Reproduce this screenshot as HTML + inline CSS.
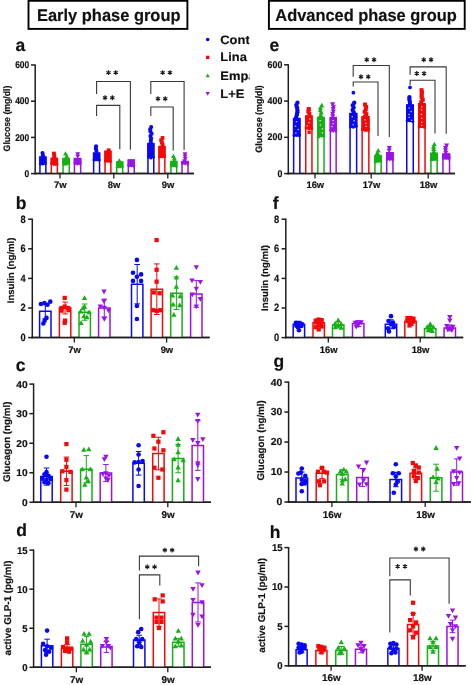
<!DOCTYPE html>
<html><head><meta charset="utf-8"><style>
html,body{margin:0;padding:0;background:#fff;width:473px;height:685px;overflow:hidden}
svg text{font-family:"Liberation Sans",sans-serif;font-weight:bold;fill:#111;stroke:#111;stroke-width:0.18px;text-rendering:geometricPrecision}
</style></head><body>
<svg width="473" height="685" viewBox="0 0 473 685" style="display:block;filter:blur(0.5px)">
<line x1="35.20" y1="64.40" x2="35.20" y2="174.35" stroke="#1e1e1e" stroke-width="1.5"/>
<line x1="34.45" y1="173.60" x2="194.00" y2="173.60" stroke="#1e1e1e" stroke-width="1.5"/>
<line x1="31.00" y1="173.60" x2="35.20" y2="173.60" stroke="#1e1e1e" stroke-width="1.5"/>
<text x="29.20" y="176.70" font-size="9.8" text-anchor="end" textLength="4.69" lengthAdjust="spacingAndGlyphs">0</text>
<line x1="31.00" y1="137.40" x2="35.20" y2="137.40" stroke="#1e1e1e" stroke-width="1.5"/>
<text x="29.20" y="140.50" font-size="9.8" text-anchor="end" textLength="14.07" lengthAdjust="spacingAndGlyphs">200</text>
<line x1="31.00" y1="101.20" x2="35.20" y2="101.20" stroke="#1e1e1e" stroke-width="1.5"/>
<text x="29.20" y="104.30" font-size="9.8" text-anchor="end" textLength="14.07" lengthAdjust="spacingAndGlyphs">400</text>
<line x1="31.00" y1="65.00" x2="35.20" y2="65.00" stroke="#1e1e1e" stroke-width="1.5"/>
<text x="29.20" y="68.10" font-size="9.8" text-anchor="end" textLength="14.07" lengthAdjust="spacingAndGlyphs">600</text>
<line x1="60.00" y1="173.60" x2="60.00" y2="178.60" stroke="#1e1e1e" stroke-width="1.3"/>
<text x="60.30" y="187.60" font-size="9.4" text-anchor="middle" textLength="12.52" lengthAdjust="spacingAndGlyphs">7w</text>
<line x1="113.80" y1="173.60" x2="113.80" y2="178.60" stroke="#1e1e1e" stroke-width="1.3"/>
<text x="114.10" y="187.60" font-size="9.4" text-anchor="middle" textLength="12.52" lengthAdjust="spacingAndGlyphs">8w</text>
<line x1="167.80" y1="173.60" x2="167.80" y2="178.60" stroke="#1e1e1e" stroke-width="1.3"/>
<text x="168.10" y="187.60" font-size="9.4" text-anchor="middle" textLength="12.52" lengthAdjust="spacingAndGlyphs">9w</text>
<path d="M96.60 94.10V81.50H130.40V149.80" fill="none" stroke="#3a3a3a" stroke-width="1.1"/>
<path d="M108.45 70.15L108.45 75.05M106.33 71.38L110.57 73.82M110.57 71.38L106.33 73.82" stroke="#1a1a1a" stroke-width="1.15" fill="none"/>
<path d="M115.75 70.15L115.75 75.05M113.63 71.38L117.87 73.82M117.87 71.38L113.63 73.82" stroke="#1a1a1a" stroke-width="1.15" fill="none"/>
<path d="M96.60 116.00V105.40H119.80V149.30" fill="none" stroke="#3a3a3a" stroke-width="1.1"/>
<path d="M105.05 95.25L105.05 100.15M102.93 96.48L107.17 98.92M107.17 96.48L102.93 98.92" stroke="#1a1a1a" stroke-width="1.15" fill="none"/>
<path d="M112.35 95.25L112.35 100.15M110.23 96.48L114.47 98.92M114.47 96.48L110.23 98.92" stroke="#1a1a1a" stroke-width="1.15" fill="none"/>
<path d="M150.80 94.10V81.50H184.10V149.90" fill="none" stroke="#3a3a3a" stroke-width="1.1"/>
<path d="M162.65 70.15L162.65 75.05M160.53 71.38L164.77 73.82M164.77 71.38L160.53 73.82" stroke="#1a1a1a" stroke-width="1.15" fill="none"/>
<path d="M169.95 70.15L169.95 75.05M167.83 71.38L172.07 73.82M172.07 71.38L167.83 73.82" stroke="#1a1a1a" stroke-width="1.15" fill="none"/>
<path d="M150.80 116.00V107.00H173.20V150.50" fill="none" stroke="#3a3a3a" stroke-width="1.1"/>
<path d="M157.95 96.25L157.95 101.15M155.83 97.48L160.07 99.92M160.07 97.48L155.83 99.92" stroke="#1a1a1a" stroke-width="1.15" fill="none"/>
<path d="M165.25 96.25L165.25 101.15M163.13 97.48L167.37 99.92M167.37 97.48L163.13 99.92" stroke="#1a1a1a" stroke-width="1.15" fill="none"/>
<text x="0" y="0" font-size="9.4" text-anchor="middle" textLength="65.8" lengthAdjust="spacingAndGlyphs" transform="translate(9.60,118.50) rotate(-90)">Glucose (mg/dl)</text>
<text x="15.60" y="50.60" font-size="17.5" text-anchor="start" >a</text>
<path d="M39.95 173.60V157.00H45.85V173.60" fill="#fff" stroke="#0808f4" stroke-width="1.5"/>
<rect x="39.20" y="156.70" width="7.40" height="7.40" fill="#0808f4"/>
<circle cx="40.43" cy="163.91" r="1.57" fill="#0808f4"/>
<circle cx="42.90" cy="163.81" r="1.57" fill="#0808f4"/>
<circle cx="45.37" cy="163.40" r="1.57" fill="#0808f4"/>
<circle cx="42.51" cy="152.97" r="2.06" fill="#0808f4"/>
<circle cx="42.92" cy="155.24" r="2.06" fill="#0808f4"/>
<path d="M51.35 173.60V158.30H57.35V173.60" fill="#fff" stroke="#f40808" stroke-width="1.5"/>
<rect x="50.60" y="158.00" width="7.50" height="6.50" fill="#f40808"/>
<rect x="50.40" y="162.01" width="2.90" height="2.90" fill="#f40808"/>
<rect x="52.90" y="162.87" width="2.90" height="2.90" fill="#f40808"/>
<rect x="55.40" y="162.77" width="2.90" height="2.90" fill="#f40808"/>
<rect x="52.05" y="151.67" width="3.80" height="3.80" fill="#f40808"/>
<rect x="52.44" y="153.94" width="3.80" height="3.80" fill="#f40808"/>
<rect x="52.37" y="156.21" width="3.80" height="3.80" fill="#f40808"/>
<path d="M63.05 173.60V158.60H69.25V173.60" fill="#fff" stroke="#14b014" stroke-width="1.5"/>
<rect x="62.30" y="158.30" width="7.70" height="5.80" fill="#14b014"/>
<path d="M63.58 162.22L65.41 165.51L61.76 165.51Z" fill="#14b014"/>
<path d="M66.15 162.21L67.98 165.50L64.32 165.50Z" fill="#14b014"/>
<path d="M68.72 161.14L70.54 164.43L66.89 164.43Z" fill="#14b014"/>
<path d="M65.45 151.17L67.84 155.48L63.05 155.48Z" fill="#14b014"/>
<path d="M66.72 153.44L69.11 157.75L64.32 157.75Z" fill="#14b014"/>
<path d="M66.55 155.71L68.95 160.02L64.15 160.02Z" fill="#14b014"/>
<path d="M74.45 173.60V158.60H80.65V173.60" fill="#fff" stroke="#9a12ea" stroke-width="1.5"/>
<rect x="73.70" y="158.30" width="7.70" height="6.40" fill="#9a12ea"/>
<path d="M74.98 165.61L76.81 162.32L73.16 162.32Z" fill="#9a12ea"/>
<path d="M77.55 165.98L79.38 162.69L75.72 162.69Z" fill="#9a12ea"/>
<path d="M80.12 165.77L81.94 162.48L78.29 162.48Z" fill="#9a12ea"/>
<path d="M77.73 156.46L80.12 152.15L75.33 152.15Z" fill="#9a12ea"/>
<path d="M77.76 158.73L80.16 154.42L75.37 154.42Z" fill="#9a12ea"/>
<path d="M93.65 173.60V153.10H99.55V173.60" fill="#fff" stroke="#0808f4" stroke-width="1.5"/>
<rect x="92.90" y="152.80" width="7.40" height="8.00" fill="#0808f4"/>
<circle cx="94.13" cy="159.88" r="1.57" fill="#0808f4"/>
<circle cx="96.60" cy="159.72" r="1.57" fill="#0808f4"/>
<circle cx="99.07" cy="160.08" r="1.57" fill="#0808f4"/>
<circle cx="96.04" cy="146.37" r="2.06" fill="#0808f4"/>
<circle cx="95.89" cy="148.64" r="2.06" fill="#0808f4"/>
<circle cx="96.44" cy="150.91" r="2.06" fill="#0808f4"/>
<path d="M105.05 173.60V151.20H110.85V173.60" fill="#fff" stroke="#f40808" stroke-width="1.5"/>
<rect x="104.30" y="150.90" width="7.30" height="10.50" fill="#f40808"/>
<rect x="104.07" y="159.50" width="2.90" height="2.90" fill="#f40808"/>
<rect x="106.50" y="159.64" width="2.90" height="2.90" fill="#f40808"/>
<rect x="108.93" y="159.71" width="2.90" height="2.90" fill="#f40808"/>
<rect x="106.76" y="148.37" width="3.80" height="3.80" fill="#f40808"/>
<path d="M116.75 173.60V162.00H122.65V173.60" fill="#fff" stroke="#14b014" stroke-width="1.5"/>
<rect x="116.00" y="161.70" width="7.40" height="5.20" fill="#14b014"/>
<path d="M117.23 164.83L119.06 168.11L115.41 168.11Z" fill="#14b014"/>
<path d="M119.70 164.86L121.53 168.15L117.87 168.15Z" fill="#14b014"/>
<path d="M122.17 164.46L123.99 167.74L120.34 167.74Z" fill="#14b014"/>
<path d="M119.31 158.27L121.71 162.58L116.92 162.58Z" fill="#14b014"/>
<path d="M128.35 173.60V159.90H134.25V173.60" fill="#fff" stroke="#9a12ea" stroke-width="1.5"/>
<rect x="127.60" y="159.60" width="7.40" height="7.30" fill="#9a12ea"/>
<path d="M128.83 167.92L130.66 164.63L127.01 164.63Z" fill="#9a12ea"/>
<path d="M131.30 167.71L133.13 164.42L129.47 164.42Z" fill="#9a12ea"/>
<path d="M133.77 168.31L135.59 165.02L131.94 165.02Z" fill="#9a12ea"/>
<path d="M147.95 173.60V143.50H153.75V173.60" fill="#fff" stroke="#0808f4" stroke-width="1.5"/>
<rect x="147.20" y="143.20" width="7.30" height="14.80" fill="#0808f4"/>
<circle cx="148.42" cy="157.07" r="1.57" fill="#0808f4"/>
<circle cx="150.85" cy="157.95" r="1.57" fill="#0808f4"/>
<circle cx="153.28" cy="156.95" r="1.57" fill="#0808f4"/>
<circle cx="151.18" cy="126.97" r="2.06" fill="#0808f4"/>
<circle cx="150.18" cy="129.24" r="2.06" fill="#0808f4"/>
<circle cx="150.44" cy="131.51" r="2.06" fill="#0808f4"/>
<circle cx="151.65" cy="133.78" r="2.06" fill="#0808f4"/>
<circle cx="150.38" cy="136.05" r="2.06" fill="#0808f4"/>
<circle cx="151.08" cy="138.32" r="2.06" fill="#0808f4"/>
<circle cx="150.78" cy="140.59" r="2.06" fill="#0808f4"/>
<circle cx="150.77" cy="142.87" r="2.06" fill="#0808f4"/>
<path d="M159.05 173.60V146.40H164.85V173.60" fill="#fff" stroke="#f40808" stroke-width="1.5"/>
<rect x="158.30" y="146.10" width="7.30" height="11.30" fill="#f40808"/>
<rect x="158.07" y="155.31" width="2.90" height="2.90" fill="#f40808"/>
<rect x="160.50" y="155.20" width="2.90" height="2.90" fill="#f40808"/>
<rect x="162.93" y="154.92" width="2.90" height="2.90" fill="#f40808"/>
<rect x="160.64" y="136.07" width="3.80" height="3.80" fill="#f40808"/>
<rect x="159.26" y="138.34" width="3.80" height="3.80" fill="#f40808"/>
<rect x="160.05" y="140.61" width="3.80" height="3.80" fill="#f40808"/>
<rect x="160.69" y="142.88" width="3.80" height="3.80" fill="#f40808"/>
<path d="M170.95 173.60V161.50H176.65V173.60" fill="#fff" stroke="#14b014" stroke-width="1.5"/>
<rect x="170.20" y="161.20" width="7.20" height="5.00" fill="#14b014"/>
<path d="M171.40 163.86L173.23 167.15L169.57 167.15Z" fill="#14b014"/>
<path d="M173.80 163.69L175.63 166.98L171.97 166.98Z" fill="#14b014"/>
<path d="M176.20 163.87L178.03 167.16L174.37 167.16Z" fill="#14b014"/>
<path d="M173.33 153.67L175.73 157.98L170.94 157.98Z" fill="#14b014"/>
<path d="M174.30 155.94L176.69 160.25L171.90 160.25Z" fill="#14b014"/>
<path d="M174.31 158.21L176.71 162.52L171.92 162.52Z" fill="#14b014"/>
<path d="M182.05 173.60V161.50H188.05V173.60" fill="#fff" stroke="#9a12ea" stroke-width="1.5"/>
<rect x="181.30" y="161.20" width="7.50" height="3.20" fill="#9a12ea"/>
<path d="M182.55 165.57L184.38 162.28L180.72 162.28Z" fill="#9a12ea"/>
<path d="M185.05 165.70L186.88 162.41L183.22 162.41Z" fill="#9a12ea"/>
<path d="M187.55 166.14L189.38 162.85L185.72 162.85Z" fill="#9a12ea"/>
<path d="M184.99 156.66L187.39 152.35L182.60 152.35Z" fill="#9a12ea"/>
<path d="M185.06 158.93L187.46 154.62L182.67 154.62Z" fill="#9a12ea"/>
<path d="M185.19 161.20L187.59 156.89L182.80 156.89Z" fill="#9a12ea"/>
<path d="M184.53 163.47L186.93 159.16L182.13 159.16Z" fill="#9a12ea"/>
<line x1="34.45" y1="173.60" x2="194.00" y2="173.60" stroke="#1e1e1e" stroke-width="1.5"/>
<line x1="288.30" y1="64.20" x2="288.30" y2="174.35" stroke="#1e1e1e" stroke-width="1.5"/>
<line x1="287.55" y1="173.60" x2="455.00" y2="173.60" stroke="#1e1e1e" stroke-width="1.5"/>
<line x1="284.10" y1="173.60" x2="288.30" y2="173.60" stroke="#1e1e1e" stroke-width="1.5"/>
<text x="282.30" y="176.70" font-size="9.8" text-anchor="end" textLength="4.91" lengthAdjust="spacingAndGlyphs">0</text>
<line x1="284.10" y1="137.33" x2="288.30" y2="137.33" stroke="#1e1e1e" stroke-width="1.5"/>
<text x="282.30" y="140.43" font-size="9.8" text-anchor="end" textLength="14.72" lengthAdjust="spacingAndGlyphs">200</text>
<line x1="284.10" y1="101.07" x2="288.30" y2="101.07" stroke="#1e1e1e" stroke-width="1.5"/>
<text x="282.30" y="104.17" font-size="9.8" text-anchor="end" textLength="14.72" lengthAdjust="spacingAndGlyphs">400</text>
<line x1="284.10" y1="64.80" x2="288.30" y2="64.80" stroke="#1e1e1e" stroke-width="1.5"/>
<text x="282.30" y="67.90" font-size="9.8" text-anchor="end" textLength="14.72" lengthAdjust="spacingAndGlyphs">600</text>
<line x1="315.00" y1="173.60" x2="315.00" y2="178.60" stroke="#1e1e1e" stroke-width="1.3"/>
<text x="315.30" y="187.60" font-size="9.4" text-anchor="middle" textLength="17.73" lengthAdjust="spacingAndGlyphs">16w</text>
<line x1="371.20" y1="173.60" x2="371.20" y2="178.60" stroke="#1e1e1e" stroke-width="1.3"/>
<text x="371.50" y="187.60" font-size="9.4" text-anchor="middle" textLength="17.73" lengthAdjust="spacingAndGlyphs">17w</text>
<line x1="428.20" y1="173.60" x2="428.20" y2="178.60" stroke="#1e1e1e" stroke-width="1.3"/>
<text x="428.50" y="187.60" font-size="9.4" text-anchor="middle" textLength="17.73" lengthAdjust="spacingAndGlyphs">18w</text>
<path d="M353.20 76.70V65.50H389.30V136.90" fill="none" stroke="#3a3a3a" stroke-width="1.1"/>
<path d="M366.75 57.35L366.75 62.25M364.63 58.57L368.87 61.02M368.87 58.57L364.63 61.02" stroke="#1a1a1a" stroke-width="1.15" fill="none"/>
<path d="M374.05 57.35L374.05 62.25M371.93 58.57L376.17 61.02M376.17 58.57L371.93 61.02" stroke="#1a1a1a" stroke-width="1.15" fill="none"/>
<path d="M353.20 86.60V82.00H378.00V135.90" fill="none" stroke="#3a3a3a" stroke-width="1.1"/>
<path d="M360.95 74.25L360.95 79.15M358.83 75.48L363.07 77.92M363.07 75.48L358.83 77.92" stroke="#1a1a1a" stroke-width="1.15" fill="none"/>
<path d="M368.25 74.25L368.25 79.15M366.13 75.48L370.37 77.92M370.37 75.48L366.13 77.92" stroke="#1a1a1a" stroke-width="1.15" fill="none"/>
<path d="M410.10 74.70V66.90H446.20V133.70" fill="none" stroke="#3a3a3a" stroke-width="1.1"/>
<path d="M423.75 57.35L423.75 62.25M421.63 58.57L425.87 61.02M425.87 58.57L421.63 61.02" stroke="#1a1a1a" stroke-width="1.15" fill="none"/>
<path d="M431.05 57.35L431.05 62.25M428.93 58.57L433.17 61.02M433.17 58.57L428.93 61.02" stroke="#1a1a1a" stroke-width="1.15" fill="none"/>
<path d="M410.10 85.10V80.20H435.00V133.50" fill="none" stroke="#3a3a3a" stroke-width="1.1"/>
<path d="M416.75 71.05L416.75 75.95M414.63 72.28L418.87 74.72M418.87 72.28L414.63 74.72" stroke="#1a1a1a" stroke-width="1.15" fill="none"/>
<path d="M424.05 71.05L424.05 75.95M421.93 72.28L426.17 74.72M426.17 72.28L421.93 74.72" stroke="#1a1a1a" stroke-width="1.15" fill="none"/>
<text x="0" y="0" font-size="9.4" text-anchor="middle" textLength="67.5" lengthAdjust="spacingAndGlyphs" transform="translate(261.60,118.90) rotate(-90)">Glucose (mg/dl)</text>
<text x="269.60" y="50.80" font-size="17.5" text-anchor="start" >e</text>
<path d="M293.65 173.60V118.60H299.85V173.60" fill="#fff" stroke="#0808f4" stroke-width="1.5"/>
<rect x="292.90" y="118.30" width="7.70" height="17.40" fill="#0808f4"/>
<circle cx="294.18" cy="135.59" r="1.67" fill="#0808f4"/>
<circle cx="296.75" cy="135.32" r="1.67" fill="#0808f4"/>
<circle cx="299.32" cy="135.42" r="1.67" fill="#0808f4"/>
<circle cx="297.44" cy="102.68" r="2.18" fill="#0808f4"/>
<circle cx="296.34" cy="105.08" r="2.18" fill="#0808f4"/>
<circle cx="296.98" cy="107.49" r="2.18" fill="#0808f4"/>
<circle cx="297.44" cy="109.89" r="2.18" fill="#0808f4"/>
<circle cx="297.38" cy="112.29" r="2.18" fill="#0808f4"/>
<circle cx="296.87" cy="114.69" r="2.18" fill="#0808f4"/>
<circle cx="296.19" cy="117.09" r="2.18" fill="#0808f4"/>
<rect x="295.87" y="121.10" width="1.3" height="1.2" fill="#fff" opacity="0.85"/>
<rect x="294.88" y="125.59" width="1.3" height="1.2" fill="#fff" opacity="0.85"/>
<rect x="297.59" y="128.93" width="1.3" height="1.2" fill="#fff" opacity="0.85"/>
<rect x="295.22" y="132.50" width="1.3" height="1.2" fill="#fff" opacity="0.85"/>
<path d="M305.75 173.60V115.90H311.95V173.60" fill="#fff" stroke="#f40808" stroke-width="1.5"/>
<rect x="305.00" y="115.60" width="7.70" height="13.20" fill="#f40808"/>
<rect x="304.75" y="126.27" width="3.06" height="3.06" fill="#f40808"/>
<rect x="307.32" y="126.90" width="3.06" height="3.06" fill="#f40808"/>
<rect x="309.88" y="126.83" width="3.06" height="3.06" fill="#f40808"/>
<rect x="306.81" y="107.07" width="4.02" height="4.02" fill="#f40808"/>
<rect x="306.36" y="109.48" width="4.02" height="4.02" fill="#f40808"/>
<rect x="307.34" y="111.88" width="4.02" height="4.02" fill="#f40808"/>
<rect x="307.45" y="130.50" width="3.40" height="3.40" fill="#f40808"/>
<rect x="309.24" y="118.40" width="1.3" height="1.2" fill="#fff" opacity="0.85"/>
<rect x="308.27" y="122.07" width="1.3" height="1.2" fill="#fff" opacity="0.85"/>
<rect x="306.66" y="125.27" width="1.3" height="1.2" fill="#fff" opacity="0.85"/>
<path d="M317.85 173.60V117.50H324.05V173.60" fill="#fff" stroke="#14b014" stroke-width="1.5"/>
<rect x="317.10" y="117.20" width="7.70" height="19.60" fill="#14b014"/>
<path d="M318.38 134.82L320.31 138.29L316.45 138.29Z" fill="#14b014"/>
<path d="M320.95 133.84L322.88 137.31L319.02 137.31Z" fill="#14b014"/>
<path d="M323.52 133.70L325.45 137.17L321.59 137.17Z" fill="#14b014"/>
<path d="M321.79 102.85L324.33 107.41L319.26 107.41Z" fill="#14b014"/>
<path d="M320.42 105.25L322.95 109.81L317.88 109.81Z" fill="#14b014"/>
<path d="M320.31 107.65L322.84 112.21L317.78 112.21Z" fill="#14b014"/>
<path d="M321.21 110.05L323.74 114.61L318.67 114.61Z" fill="#14b014"/>
<path d="M320.69 112.46L323.22 117.01L318.16 117.01Z" fill="#14b014"/>
<path d="M321.61 114.86L324.14 119.42L319.08 119.42Z" fill="#14b014"/>
<rect x="319.49" y="120.00" width="1.3" height="1.2" fill="#fff" opacity="0.85"/>
<rect x="319.77" y="124.43" width="1.3" height="1.2" fill="#fff" opacity="0.85"/>
<rect x="321.73" y="128.25" width="1.3" height="1.2" fill="#fff" opacity="0.85"/>
<rect x="321.71" y="132.22" width="1.3" height="1.2" fill="#fff" opacity="0.85"/>
<path d="M330.35 173.60V117.50H336.15V173.60" fill="#fff" stroke="#9a12ea" stroke-width="1.5"/>
<rect x="329.60" y="117.20" width="7.30" height="14.10" fill="#9a12ea"/>
<path d="M330.82 133.14L332.75 129.66L328.89 129.66Z" fill="#9a12ea"/>
<path d="M333.25 133.17L335.18 129.69L331.32 129.69Z" fill="#9a12ea"/>
<path d="M335.68 133.10L337.61 129.63L333.75 129.63Z" fill="#9a12ea"/>
<path d="M332.58 106.82L335.11 102.26L330.05 102.26Z" fill="#9a12ea"/>
<path d="M333.40 109.22L335.93 104.66L330.87 104.66Z" fill="#9a12ea"/>
<path d="M333.13 111.62L335.66 107.06L330.60 107.06Z" fill="#9a12ea"/>
<path d="M333.30 114.02L335.83 109.46L330.77 109.46Z" fill="#9a12ea"/>
<path d="M332.66 116.42L335.19 111.86L330.12 111.86Z" fill="#9a12ea"/>
<path d="M332.76 118.82L335.29 114.26L330.22 114.26Z" fill="#9a12ea"/>
<rect x="332.47" y="120.00" width="1.3" height="1.2" fill="#fff" opacity="0.85"/>
<rect x="332.51" y="123.18" width="1.3" height="1.2" fill="#fff" opacity="0.85"/>
<rect x="331.32" y="126.02" width="1.3" height="1.2" fill="#fff" opacity="0.85"/>
<path d="M350.05 173.60V113.60H356.65V173.60" fill="#fff" stroke="#0808f4" stroke-width="1.5"/>
<rect x="349.30" y="113.30" width="8.10" height="13.90" fill="#0808f4"/>
<circle cx="350.65" cy="126.85" r="1.67" fill="#0808f4"/>
<circle cx="353.35" cy="127.01" r="1.67" fill="#0808f4"/>
<circle cx="356.05" cy="126.22" r="1.67" fill="#0808f4"/>
<circle cx="354.24" cy="102.78" r="2.18" fill="#0808f4"/>
<circle cx="352.80" cy="105.18" r="2.18" fill="#0808f4"/>
<circle cx="353.65" cy="107.59" r="2.18" fill="#0808f4"/>
<circle cx="352.62" cy="109.99" r="2.18" fill="#0808f4"/>
<circle cx="353.81" cy="112.39" r="2.18" fill="#0808f4"/>
<circle cx="353.35" cy="92.70" r="1.85" fill="#0808f4"/>
<rect x="351.63" y="116.10" width="1.3" height="1.2" fill="#fff" opacity="0.85"/>
<rect x="353.47" y="120.10" width="1.3" height="1.2" fill="#fff" opacity="0.85"/>
<rect x="352.56" y="124.20" width="1.3" height="1.2" fill="#fff" opacity="0.85"/>
<path d="M362.15 173.60V116.70H368.85V173.60" fill="#fff" stroke="#f40808" stroke-width="1.5"/>
<rect x="361.40" y="116.40" width="8.20" height="13.90" fill="#f40808"/>
<rect x="361.23" y="128.02" width="3.06" height="3.06" fill="#f40808"/>
<rect x="363.97" y="128.68" width="3.06" height="3.06" fill="#f40808"/>
<rect x="366.70" y="128.58" width="3.06" height="3.06" fill="#f40808"/>
<rect x="362.98" y="102.57" width="4.02" height="4.02" fill="#f40808"/>
<rect x="364.16" y="104.98" width="4.02" height="4.02" fill="#f40808"/>
<rect x="363.74" y="107.38" width="4.02" height="4.02" fill="#f40808"/>
<rect x="362.67" y="109.78" width="4.02" height="4.02" fill="#f40808"/>
<rect x="364.31" y="112.18" width="4.02" height="4.02" fill="#f40808"/>
<rect x="363.05" y="114.58" width="4.02" height="4.02" fill="#f40808"/>
<rect x="364.28" y="119.20" width="1.3" height="1.2" fill="#fff" opacity="0.85"/>
<rect x="365.18" y="122.72" width="1.3" height="1.2" fill="#fff" opacity="0.85"/>
<rect x="365.50" y="125.73" width="1.3" height="1.2" fill="#fff" opacity="0.85"/>
<path d="M374.95 173.60V155.80H381.15V173.60" fill="#fff" stroke="#14b014" stroke-width="1.5"/>
<rect x="374.20" y="155.50" width="7.70" height="6.50" fill="#14b014"/>
<path d="M375.48 159.77L377.41 163.24L373.55 163.24Z" fill="#14b014"/>
<path d="M378.05 159.11L379.98 162.59L376.12 162.59Z" fill="#14b014"/>
<path d="M380.62 159.11L382.55 162.59L378.69 162.59Z" fill="#14b014"/>
<path d="M378.22 147.95L380.75 152.51L375.69 152.51Z" fill="#14b014"/>
<path d="M377.30 150.35L379.83 154.91L374.77 154.91Z" fill="#14b014"/>
<path d="M378.52 152.75L381.05 157.31L375.99 157.31Z" fill="#14b014"/>
<path d="M386.75 173.60V152.70H392.95V173.60" fill="#fff" stroke="#9a12ea" stroke-width="1.5"/>
<rect x="386.00" y="152.40" width="7.70" height="7.70" fill="#9a12ea"/>
<path d="M387.28 161.61L389.21 158.13L385.35 158.13Z" fill="#9a12ea"/>
<path d="M389.85 161.67L391.78 158.20L387.92 158.20Z" fill="#9a12ea"/>
<path d="M392.42 161.98L394.35 158.50L390.49 158.50Z" fill="#9a12ea"/>
<path d="M389.34 150.62L391.87 146.06L386.80 146.06Z" fill="#9a12ea"/>
<path d="M389.11 153.02L391.65 148.46L386.58 148.46Z" fill="#9a12ea"/>
<path d="M406.75 173.60V104.90H413.25V173.60" fill="#fff" stroke="#0808f4" stroke-width="1.5"/>
<rect x="406.00" y="104.60" width="8.00" height="17.10" fill="#0808f4"/>
<circle cx="407.33" cy="120.64" r="1.67" fill="#0808f4"/>
<circle cx="410.00" cy="120.66" r="1.67" fill="#0808f4"/>
<circle cx="412.67" cy="121.22" r="1.67" fill="#0808f4"/>
<circle cx="409.43" cy="97.18" r="2.18" fill="#0808f4"/>
<circle cx="409.35" cy="99.58" r="2.18" fill="#0808f4"/>
<circle cx="409.94" cy="101.99" r="2.18" fill="#0808f4"/>
<circle cx="409.85" cy="104.39" r="2.18" fill="#0808f4"/>
<circle cx="410.00" cy="87.40" r="1.85" fill="#0808f4"/>
<rect x="408.48" y="107.40" width="1.3" height="1.2" fill="#fff" opacity="0.85"/>
<rect x="410.50" y="110.87" width="1.3" height="1.2" fill="#fff" opacity="0.85"/>
<rect x="408.40" y="113.89" width="1.3" height="1.2" fill="#fff" opacity="0.85"/>
<rect x="408.57" y="116.74" width="1.3" height="1.2" fill="#fff" opacity="0.85"/>
<rect x="410.95" y="119.70" width="1.3" height="1.2" fill="#fff" opacity="0.85"/>
<path d="M418.75 173.60V103.70H425.05V173.60" fill="#fff" stroke="#f40808" stroke-width="1.5"/>
<rect x="418.00" y="103.40" width="7.80" height="23.80" fill="#f40808"/>
<rect x="417.77" y="125.13" width="3.06" height="3.06" fill="#f40808"/>
<rect x="420.37" y="124.88" width="3.06" height="3.06" fill="#f40808"/>
<rect x="422.97" y="125.48" width="3.06" height="3.06" fill="#f40808"/>
<rect x="419.53" y="88.17" width="4.02" height="4.02" fill="#f40808"/>
<rect x="419.91" y="90.58" width="4.02" height="4.02" fill="#f40808"/>
<rect x="419.62" y="92.98" width="4.02" height="4.02" fill="#f40808"/>
<rect x="419.75" y="95.38" width="4.02" height="4.02" fill="#f40808"/>
<rect x="420.70" y="97.78" width="4.02" height="4.02" fill="#f40808"/>
<rect x="419.21" y="100.18" width="4.02" height="4.02" fill="#f40808"/>
<rect x="421.12" y="106.20" width="1.3" height="1.2" fill="#fff" opacity="0.85"/>
<rect x="420.82" y="109.38" width="1.3" height="1.2" fill="#fff" opacity="0.85"/>
<rect x="420.75" y="113.88" width="1.3" height="1.2" fill="#fff" opacity="0.85"/>
<rect x="421.04" y="117.71" width="1.3" height="1.2" fill="#fff" opacity="0.85"/>
<rect x="421.13" y="121.76" width="1.3" height="1.2" fill="#fff" opacity="0.85"/>
<rect x="421.09" y="124.84" width="1.3" height="1.2" fill="#fff" opacity="0.85"/>
<path d="M430.95 173.60V153.30H437.15V173.60" fill="#fff" stroke="#14b014" stroke-width="1.5"/>
<rect x="430.20" y="153.00" width="7.70" height="7.10" fill="#14b014"/>
<path d="M431.48 157.62L433.41 161.09L429.55 161.09Z" fill="#14b014"/>
<path d="M434.05 157.32L435.98 160.79L432.12 160.79Z" fill="#14b014"/>
<path d="M436.62 157.00L438.55 160.48L434.69 160.48Z" fill="#14b014"/>
<path d="M434.31 141.75L436.84 146.31L431.78 146.31Z" fill="#14b014"/>
<path d="M433.56 144.15L436.09 148.71L431.03 148.71Z" fill="#14b014"/>
<path d="M433.64 146.55L436.17 151.11L431.11 151.11Z" fill="#14b014"/>
<path d="M433.88 148.95L436.41 153.51L431.34 153.51Z" fill="#14b014"/>
<path d="M442.95 173.60V153.90H449.55V173.60" fill="#fff" stroke="#9a12ea" stroke-width="1.5"/>
<rect x="442.20" y="153.60" width="8.10" height="5.90" fill="#9a12ea"/>
<path d="M443.55 160.25L445.48 156.77L441.62 156.77Z" fill="#9a12ea"/>
<path d="M446.25 160.37L448.18 156.89L444.32 156.89Z" fill="#9a12ea"/>
<path d="M448.95 160.70L450.88 157.23L447.02 157.23Z" fill="#9a12ea"/>
<path d="M446.58 148.12L449.11 143.56L444.05 143.56Z" fill="#9a12ea"/>
<path d="M445.61 150.52L448.14 145.96L443.07 145.96Z" fill="#9a12ea"/>
<path d="M445.56 152.92L448.09 148.36L443.03 148.36Z" fill="#9a12ea"/>
<path d="M445.77 155.32L448.30 150.76L443.24 150.76Z" fill="#9a12ea"/>
<line x1="287.55" y1="173.60" x2="455.00" y2="173.60" stroke="#1e1e1e" stroke-width="1.5"/>
<line x1="32.30" y1="218.60" x2="32.30" y2="338.35" stroke="#1e1e1e" stroke-width="1.5"/>
<line x1="31.55" y1="337.60" x2="209.60" y2="337.60" stroke="#1e1e1e" stroke-width="1.5"/>
<line x1="28.10" y1="337.60" x2="32.30" y2="337.60" stroke="#1e1e1e" stroke-width="1.5"/>
<text x="25.70" y="341.00" font-size="10.6" text-anchor="end" textLength="5.18" lengthAdjust="spacingAndGlyphs">0</text>
<line x1="28.10" y1="308.00" x2="32.30" y2="308.00" stroke="#1e1e1e" stroke-width="1.5"/>
<text x="25.70" y="311.40" font-size="10.6" text-anchor="end" textLength="5.18" lengthAdjust="spacingAndGlyphs">2</text>
<line x1="28.10" y1="278.40" x2="32.30" y2="278.40" stroke="#1e1e1e" stroke-width="1.5"/>
<text x="25.70" y="281.80" font-size="10.6" text-anchor="end" textLength="5.18" lengthAdjust="spacingAndGlyphs">4</text>
<line x1="28.10" y1="248.80" x2="32.30" y2="248.80" stroke="#1e1e1e" stroke-width="1.5"/>
<text x="25.70" y="252.20" font-size="10.6" text-anchor="end" textLength="5.18" lengthAdjust="spacingAndGlyphs">6</text>
<line x1="28.10" y1="219.20" x2="32.30" y2="219.20" stroke="#1e1e1e" stroke-width="1.5"/>
<text x="25.70" y="222.60" font-size="10.6" text-anchor="end" textLength="5.18" lengthAdjust="spacingAndGlyphs">8</text>
<line x1="74.30" y1="337.60" x2="74.30" y2="342.60" stroke="#1e1e1e" stroke-width="1.3"/>
<text x="74.60" y="352.70" font-size="9.4" text-anchor="middle" textLength="12.52" lengthAdjust="spacingAndGlyphs">7w</text>
<line x1="166.60" y1="337.60" x2="166.60" y2="342.60" stroke="#1e1e1e" stroke-width="1.3"/>
<text x="166.90" y="352.70" font-size="9.4" text-anchor="middle" textLength="12.52" lengthAdjust="spacingAndGlyphs">9w</text>
<text x="0" y="0" font-size="9.5" text-anchor="middle" textLength="65.8" lengthAdjust="spacingAndGlyphs" transform="translate(13.60,270.40) rotate(-90)">Insulin (ng/ml)</text>
<text x="15.80" y="209.00" font-size="17.5" text-anchor="start" >b</text>
<path d="M39.60 337.60V311.26H51.00V337.60" fill="#fff" stroke="#0808f4" stroke-width="1.5"/>
<line x1="45.30" y1="303.86" x2="45.30" y2="318.66" stroke="#0808f4" stroke-width="1.0"/>
<line x1="42.50" y1="303.86" x2="48.10" y2="303.86" stroke="#0808f4" stroke-width="1.0"/>
<line x1="42.50" y1="318.66" x2="48.10" y2="318.66" stroke="#0808f4" stroke-width="1.0"/>
<circle cx="40.90" cy="304.00" r="2.30" fill="#0808f4"/>
<circle cx="44.40" cy="303.12" r="2.30" fill="#0808f4"/>
<circle cx="47.50" cy="304.74" r="2.30" fill="#0808f4"/>
<circle cx="50.30" cy="301.64" r="2.30" fill="#0808f4"/>
<circle cx="46.50" cy="317.92" r="2.30" fill="#0808f4"/>
<circle cx="44.60" cy="320.73" r="2.30" fill="#0808f4"/>
<circle cx="43.30" cy="323.54" r="2.30" fill="#0808f4"/>
<path d="M59.40 337.60V308.00H70.80V337.60" fill="#fff" stroke="#f40808" stroke-width="1.5"/>
<line x1="65.10" y1="302.08" x2="65.10" y2="313.92" stroke="#f40808" stroke-width="1.0"/>
<line x1="62.30" y1="302.08" x2="67.90" y2="302.08" stroke="#f40808" stroke-width="1.0"/>
<line x1="62.30" y1="313.92" x2="67.90" y2="313.92" stroke="#f40808" stroke-width="1.0"/>
<rect x="62.58" y="295.82" width="4.23" height="4.23" fill="#f40808"/>
<rect x="62.58" y="304.40" width="4.23" height="4.23" fill="#f40808"/>
<rect x="59.48" y="305.88" width="4.23" height="4.23" fill="#f40808"/>
<rect x="65.98" y="305.88" width="4.23" height="4.23" fill="#f40808"/>
<rect x="59.48" y="308.55" width="4.23" height="4.23" fill="#f40808"/>
<rect x="66.48" y="308.10" width="4.23" height="4.23" fill="#f40808"/>
<rect x="62.98" y="318.46" width="4.23" height="4.23" fill="#f40808"/>
<rect x="62.58" y="320.68" width="4.23" height="4.23" fill="#f40808"/>
<path d="M79.00 337.60V312.14H90.40V337.60" fill="#fff" stroke="#14b014" stroke-width="1.5"/>
<line x1="84.70" y1="304.00" x2="84.70" y2="320.28" stroke="#14b014" stroke-width="1.0"/>
<line x1="81.90" y1="304.00" x2="87.50" y2="304.00" stroke="#14b014" stroke-width="1.0"/>
<line x1="81.90" y1="320.28" x2="87.50" y2="320.28" stroke="#14b014" stroke-width="1.0"/>
<path d="M84.50 295.27L87.17 300.07L81.83 300.07Z" fill="#14b014"/>
<path d="M84.50 303.85L87.17 308.65L81.83 308.65Z" fill="#14b014"/>
<path d="M82.90 305.33L85.57 310.13L80.23 310.13Z" fill="#14b014"/>
<path d="M80.50 308.74L83.17 313.54L77.83 313.54Z" fill="#14b014"/>
<path d="M89.10 309.48L91.77 314.28L86.43 314.28Z" fill="#14b014"/>
<path d="M83.90 313.47L86.57 318.27L81.23 318.27Z" fill="#14b014"/>
<path d="M86.90 314.51L89.57 319.31L84.23 319.31Z" fill="#14b014"/>
<path d="M81.10 320.13L83.77 324.93L78.43 324.93Z" fill="#14b014"/>
<path d="M98.60 337.60V308.00H110.00V337.60" fill="#fff" stroke="#9a12ea" stroke-width="1.5"/>
<line x1="104.30" y1="299.12" x2="104.30" y2="316.88" stroke="#9a12ea" stroke-width="1.0"/>
<line x1="101.50" y1="299.12" x2="107.10" y2="299.12" stroke="#9a12ea" stroke-width="1.0"/>
<line x1="101.50" y1="316.88" x2="107.10" y2="316.88" stroke="#9a12ea" stroke-width="1.0"/>
<path d="M104.00 294.39L106.67 289.59L101.33 289.59Z" fill="#9a12ea"/>
<path d="M104.00 304.01L106.67 299.21L101.33 299.21Z" fill="#9a12ea"/>
<path d="M100.30 309.19L102.97 304.39L97.63 304.39Z" fill="#9a12ea"/>
<path d="M104.30 310.67L106.97 305.87L101.63 305.87Z" fill="#9a12ea"/>
<path d="M108.50 313.18L111.17 308.38L105.83 308.38Z" fill="#9a12ea"/>
<path d="M104.30 321.77L106.97 316.97L101.63 316.97Z" fill="#9a12ea"/>
<path d="M131.50 337.60V284.17H142.90V337.60" fill="#fff" stroke="#0808f4" stroke-width="1.5"/>
<line x1="137.20" y1="264.49" x2="137.20" y2="303.86" stroke="#0808f4" stroke-width="1.0"/>
<line x1="134.40" y1="264.49" x2="140.00" y2="264.49" stroke="#0808f4" stroke-width="1.0"/>
<line x1="134.40" y1="303.86" x2="140.00" y2="303.86" stroke="#0808f4" stroke-width="1.0"/>
<circle cx="136.90" cy="259.90" r="2.30" fill="#0808f4"/>
<circle cx="133.00" cy="272.78" r="2.30" fill="#0808f4"/>
<circle cx="136.90" cy="276.77" r="2.30" fill="#0808f4"/>
<circle cx="141.10" cy="274.40" r="2.30" fill="#0808f4"/>
<circle cx="133.00" cy="280.92" r="2.30" fill="#0808f4"/>
<circle cx="141.10" cy="280.92" r="2.30" fill="#0808f4"/>
<circle cx="136.90" cy="305.93" r="2.30" fill="#0808f4"/>
<circle cx="136.90" cy="318.95" r="2.30" fill="#0808f4"/>
<path d="M151.10 337.60V289.20H162.50V337.60" fill="#fff" stroke="#f40808" stroke-width="1.5"/>
<line x1="156.80" y1="263.90" x2="156.80" y2="314.51" stroke="#f40808" stroke-width="1.0"/>
<line x1="154.00" y1="263.90" x2="159.60" y2="263.90" stroke="#f40808" stroke-width="1.0"/>
<line x1="154.00" y1="314.51" x2="159.60" y2="314.51" stroke="#f40808" stroke-width="1.0"/>
<rect x="154.48" y="237.95" width="4.23" height="4.23" fill="#f40808"/>
<rect x="154.48" y="267.70" width="4.23" height="4.23" fill="#f40808"/>
<rect x="154.48" y="279.54" width="4.23" height="4.23" fill="#f40808"/>
<rect x="151.68" y="290.34" width="4.23" height="4.23" fill="#f40808"/>
<rect x="157.48" y="291.08" width="4.23" height="4.23" fill="#f40808"/>
<rect x="151.18" y="308.10" width="4.23" height="4.23" fill="#f40808"/>
<rect x="154.68" y="308.84" width="4.23" height="4.23" fill="#f40808"/>
<rect x="158.18" y="308.10" width="4.23" height="4.23" fill="#f40808"/>
<path d="M170.70 337.60V293.20H182.10V337.60" fill="#fff" stroke="#14b014" stroke-width="1.5"/>
<line x1="176.40" y1="276.92" x2="176.40" y2="309.48" stroke="#14b014" stroke-width="1.0"/>
<line x1="173.60" y1="276.92" x2="179.20" y2="276.92" stroke="#14b014" stroke-width="1.0"/>
<line x1="173.60" y1="309.48" x2="179.20" y2="309.48" stroke="#14b014" stroke-width="1.0"/>
<path d="M176.40 264.93L179.07 269.73L173.73 269.73Z" fill="#14b014"/>
<path d="M176.40 274.70L179.07 279.50L173.73 279.50Z" fill="#14b014"/>
<path d="M176.40 283.87L179.07 288.67L173.73 288.67Z" fill="#14b014"/>
<path d="M172.60 292.75L175.27 297.55L169.93 297.55Z" fill="#14b014"/>
<path d="M180.20 293.49L182.87 298.29L177.53 298.29Z" fill="#14b014"/>
<path d="M173.10 301.63L175.77 306.43L170.43 306.43Z" fill="#14b014"/>
<path d="M179.70 302.37L182.37 307.17L177.03 307.17Z" fill="#14b014"/>
<path d="M173.90 311.99L176.57 316.79L171.23 316.79Z" fill="#14b014"/>
<path d="M190.60 337.60V293.94H202.00V337.60" fill="#fff" stroke="#9a12ea" stroke-width="1.5"/>
<line x1="196.30" y1="280.62" x2="196.30" y2="307.26" stroke="#9a12ea" stroke-width="1.0"/>
<line x1="193.50" y1="280.62" x2="199.10" y2="280.62" stroke="#9a12ea" stroke-width="1.0"/>
<line x1="193.50" y1="307.26" x2="199.10" y2="307.26" stroke="#9a12ea" stroke-width="1.0"/>
<path d="M196.30 269.97L198.97 265.17L193.63 265.17Z" fill="#9a12ea"/>
<path d="M192.00 283.29L194.67 278.49L189.33 278.49Z" fill="#9a12ea"/>
<path d="M200.30 284.77L202.97 279.97L197.63 279.97Z" fill="#9a12ea"/>
<path d="M196.30 291.43L198.97 286.63L193.63 286.63Z" fill="#9a12ea"/>
<path d="M192.30 297.35L194.97 292.55L189.63 292.55Z" fill="#9a12ea"/>
<path d="M200.30 301.79L202.97 296.99L197.63 296.99Z" fill="#9a12ea"/>
<path d="M196.30 309.19L198.97 304.39L193.63 304.39Z" fill="#9a12ea"/>
<line x1="31.55" y1="337.60" x2="209.60" y2="337.60" stroke="#1e1e1e" stroke-width="1.5"/>
<line x1="285.80" y1="218.60" x2="285.80" y2="338.35" stroke="#1e1e1e" stroke-width="1.5"/>
<line x1="285.05" y1="337.60" x2="463.20" y2="337.60" stroke="#1e1e1e" stroke-width="1.5"/>
<line x1="281.60" y1="337.60" x2="285.80" y2="337.60" stroke="#1e1e1e" stroke-width="1.5"/>
<text x="279.20" y="341.00" font-size="10.6" text-anchor="end" textLength="5.18" lengthAdjust="spacingAndGlyphs">0</text>
<line x1="281.60" y1="308.00" x2="285.80" y2="308.00" stroke="#1e1e1e" stroke-width="1.5"/>
<text x="279.20" y="311.40" font-size="10.6" text-anchor="end" textLength="5.18" lengthAdjust="spacingAndGlyphs">2</text>
<line x1="281.60" y1="278.40" x2="285.80" y2="278.40" stroke="#1e1e1e" stroke-width="1.5"/>
<text x="279.20" y="281.80" font-size="10.6" text-anchor="end" textLength="5.18" lengthAdjust="spacingAndGlyphs">4</text>
<line x1="281.60" y1="248.80" x2="285.80" y2="248.80" stroke="#1e1e1e" stroke-width="1.5"/>
<text x="279.20" y="252.20" font-size="10.6" text-anchor="end" textLength="5.18" lengthAdjust="spacingAndGlyphs">6</text>
<line x1="281.60" y1="219.20" x2="285.80" y2="219.20" stroke="#1e1e1e" stroke-width="1.5"/>
<text x="279.20" y="222.60" font-size="10.6" text-anchor="end" textLength="5.18" lengthAdjust="spacingAndGlyphs">8</text>
<line x1="328.30" y1="337.60" x2="328.30" y2="342.60" stroke="#1e1e1e" stroke-width="1.3"/>
<text x="328.60" y="352.70" font-size="9.4" text-anchor="middle" textLength="17.73" lengthAdjust="spacingAndGlyphs">16w</text>
<line x1="420.20" y1="337.60" x2="420.20" y2="342.60" stroke="#1e1e1e" stroke-width="1.3"/>
<text x="420.50" y="352.70" font-size="9.4" text-anchor="middle" textLength="17.73" lengthAdjust="spacingAndGlyphs">18w</text>
<text x="0" y="0" font-size="9.5" text-anchor="middle" textLength="66" lengthAdjust="spacingAndGlyphs" transform="translate(267.90,277.90) rotate(-90)">Insulin (ng/ml)</text>
<text x="272.80" y="209.00" font-size="17.5" text-anchor="start" >f</text>
<path d="M293.20 337.60V324.28H304.60V337.60" fill="#fff" stroke="#0808f4" stroke-width="1.5"/>
<line x1="298.90" y1="321.32" x2="298.90" y2="327.24" stroke="#0808f4" stroke-width="1.0"/>
<line x1="296.10" y1="321.32" x2="301.70" y2="321.32" stroke="#0808f4" stroke-width="1.0"/>
<line x1="296.10" y1="327.24" x2="301.70" y2="327.24" stroke="#0808f4" stroke-width="1.0"/>
<circle cx="295.90" cy="322.80" r="2.30" fill="#0808f4"/>
<circle cx="298.90" cy="323.10" r="2.30" fill="#0808f4"/>
<circle cx="301.90" cy="323.98" r="2.30" fill="#0808f4"/>
<circle cx="296.40" cy="325.76" r="2.30" fill="#0808f4"/>
<circle cx="301.40" cy="326.06" r="2.30" fill="#0808f4"/>
<circle cx="298.90" cy="330.20" r="2.30" fill="#0808f4"/>
<circle cx="297.90" cy="327.24" r="2.30" fill="#0808f4"/>
<path d="M313.00 337.60V322.80H324.40V337.60" fill="#fff" stroke="#f40808" stroke-width="1.5"/>
<line x1="318.70" y1="319.10" x2="318.70" y2="326.50" stroke="#f40808" stroke-width="1.0"/>
<line x1="315.90" y1="319.10" x2="321.50" y2="319.10" stroke="#f40808" stroke-width="1.0"/>
<line x1="315.90" y1="326.50" x2="321.50" y2="326.50" stroke="#f40808" stroke-width="1.0"/>
<rect x="313.58" y="318.46" width="4.23" height="4.23" fill="#f40808"/>
<rect x="316.58" y="317.43" width="4.23" height="4.23" fill="#f40808"/>
<rect x="319.58" y="318.02" width="4.23" height="4.23" fill="#f40808"/>
<rect x="314.08" y="320.39" width="4.23" height="4.23" fill="#f40808"/>
<rect x="319.08" y="320.98" width="4.23" height="4.23" fill="#f40808"/>
<rect x="316.58" y="323.35" width="4.23" height="4.23" fill="#f40808"/>
<rect x="313.58" y="325.12" width="4.23" height="4.23" fill="#f40808"/>
<rect x="319.58" y="324.38" width="4.23" height="4.23" fill="#f40808"/>
<rect x="316.58" y="327.34" width="4.23" height="4.23" fill="#f40808"/>
<path d="M332.50 337.60V325.02H343.90V337.60" fill="#fff" stroke="#14b014" stroke-width="1.5"/>
<line x1="338.20" y1="322.06" x2="338.20" y2="327.98" stroke="#14b014" stroke-width="1.0"/>
<line x1="335.40" y1="322.06" x2="341.00" y2="322.06" stroke="#14b014" stroke-width="1.0"/>
<line x1="335.40" y1="327.98" x2="341.00" y2="327.98" stroke="#14b014" stroke-width="1.0"/>
<path d="M338.20 317.47L340.87 322.27L335.53 322.27Z" fill="#14b014"/>
<path d="M335.20 320.87L337.87 325.67L332.53 325.67Z" fill="#14b014"/>
<path d="M341.20 321.32L343.87 326.12L338.53 326.12Z" fill="#14b014"/>
<path d="M338.20 322.80L340.87 327.60L335.53 327.60Z" fill="#14b014"/>
<path d="M335.20 324.57L337.87 329.37L332.53 329.37Z" fill="#14b014"/>
<path d="M341.20 324.87L343.87 329.67L338.53 329.67Z" fill="#14b014"/>
<path d="M352.50 337.60V323.54H363.90V337.60" fill="#fff" stroke="#9a12ea" stroke-width="1.5"/>
<line x1="358.20" y1="320.58" x2="358.20" y2="326.50" stroke="#9a12ea" stroke-width="1.0"/>
<line x1="355.40" y1="320.58" x2="361.00" y2="320.58" stroke="#9a12ea" stroke-width="1.0"/>
<line x1="355.40" y1="326.50" x2="361.00" y2="326.50" stroke="#9a12ea" stroke-width="1.0"/>
<path d="M355.20 325.47L357.87 320.67L352.53 320.67Z" fill="#9a12ea"/>
<path d="M358.20 326.21L360.87 321.41L355.53 321.41Z" fill="#9a12ea"/>
<path d="M361.20 325.17L363.87 320.37L358.53 320.37Z" fill="#9a12ea"/>
<path d="M358.20 328.13L360.87 323.33L355.53 323.33Z" fill="#9a12ea"/>
<path d="M356.20 329.61L358.87 324.81L353.53 324.81Z" fill="#9a12ea"/>
<path d="M385.30 337.60V324.28H396.70V337.60" fill="#fff" stroke="#0808f4" stroke-width="1.5"/>
<line x1="391.00" y1="319.84" x2="391.00" y2="328.72" stroke="#0808f4" stroke-width="1.0"/>
<line x1="388.20" y1="319.84" x2="393.80" y2="319.84" stroke="#0808f4" stroke-width="1.0"/>
<line x1="388.20" y1="328.72" x2="393.80" y2="328.72" stroke="#0808f4" stroke-width="1.0"/>
<circle cx="391.00" cy="316.14" r="2.30" fill="#0808f4"/>
<circle cx="388.50" cy="321.02" r="2.30" fill="#0808f4"/>
<circle cx="393.00" cy="322.50" r="2.30" fill="#0808f4"/>
<circle cx="391.00" cy="323.98" r="2.30" fill="#0808f4"/>
<circle cx="388.00" cy="328.42" r="2.30" fill="#0808f4"/>
<circle cx="394.00" cy="326.94" r="2.30" fill="#0808f4"/>
<circle cx="389.00" cy="331.38" r="2.30" fill="#0808f4"/>
<path d="M404.80 337.60V321.32H416.20V337.60" fill="#fff" stroke="#f40808" stroke-width="1.5"/>
<line x1="410.50" y1="319.10" x2="410.50" y2="323.54" stroke="#f40808" stroke-width="1.0"/>
<line x1="407.70" y1="319.10" x2="413.30" y2="319.10" stroke="#f40808" stroke-width="1.0"/>
<line x1="407.70" y1="323.54" x2="413.30" y2="323.54" stroke="#f40808" stroke-width="1.0"/>
<rect x="405.38" y="315.95" width="4.23" height="4.23" fill="#f40808"/>
<rect x="408.38" y="315.95" width="4.23" height="4.23" fill="#f40808"/>
<rect x="411.38" y="316.54" width="4.23" height="4.23" fill="#f40808"/>
<rect x="405.38" y="318.91" width="4.23" height="4.23" fill="#f40808"/>
<rect x="411.38" y="319.50" width="4.23" height="4.23" fill="#f40808"/>
<rect x="408.38" y="320.39" width="4.23" height="4.23" fill="#f40808"/>
<rect x="407.38" y="323.35" width="4.23" height="4.23" fill="#f40808"/>
<rect x="409.38" y="321.87" width="4.23" height="4.23" fill="#f40808"/>
<path d="M424.50 337.60V328.72H435.90V337.60" fill="#fff" stroke="#14b014" stroke-width="1.5"/>
<line x1="430.20" y1="326.50" x2="430.20" y2="330.94" stroke="#14b014" stroke-width="1.0"/>
<line x1="427.40" y1="326.50" x2="433.00" y2="326.50" stroke="#14b014" stroke-width="1.0"/>
<line x1="427.40" y1="330.94" x2="433.00" y2="330.94" stroke="#14b014" stroke-width="1.0"/>
<path d="M430.20 321.32L432.87 326.12L427.53 326.12Z" fill="#14b014"/>
<path d="M427.20 324.28L429.87 329.08L424.53 329.08Z" fill="#14b014"/>
<path d="M433.20 324.28L435.87 329.08L430.53 329.08Z" fill="#14b014"/>
<path d="M430.20 325.76L432.87 330.56L427.53 330.56Z" fill="#14b014"/>
<path d="M428.20 327.53L430.87 332.33L425.53 332.33Z" fill="#14b014"/>
<path d="M432.20 328.27L434.87 333.07L429.53 333.07Z" fill="#14b014"/>
<path d="M444.10 337.60V327.98H455.50V337.60" fill="#fff" stroke="#9a12ea" stroke-width="1.5"/>
<line x1="449.80" y1="325.02" x2="449.80" y2="330.94" stroke="#9a12ea" stroke-width="1.0"/>
<line x1="447.00" y1="325.02" x2="452.60" y2="325.02" stroke="#9a12ea" stroke-width="1.0"/>
<line x1="447.00" y1="330.94" x2="452.60" y2="330.94" stroke="#9a12ea" stroke-width="1.0"/>
<path d="M449.80 319.84L452.47 315.04L447.13 315.04Z" fill="#9a12ea"/>
<path d="M449.80 323.25L452.47 318.45L447.13 318.45Z" fill="#9a12ea"/>
<path d="M446.80 328.72L449.47 323.92L444.13 323.92Z" fill="#9a12ea"/>
<path d="M452.80 329.61L455.47 324.81L450.13 324.81Z" fill="#9a12ea"/>
<path d="M449.80 331.09L452.47 326.29L447.13 326.29Z" fill="#9a12ea"/>
<path d="M447.80 332.13L450.47 327.33L445.13 327.33Z" fill="#9a12ea"/>
<path d="M451.80 332.87L454.47 328.07L449.13 328.07Z" fill="#9a12ea"/>
<line x1="285.05" y1="337.60" x2="463.20" y2="337.60" stroke="#1e1e1e" stroke-width="1.5"/>
<line x1="33.60" y1="383.50" x2="33.60" y2="503.05" stroke="#1e1e1e" stroke-width="1.5"/>
<line x1="32.85" y1="502.30" x2="211.00" y2="502.30" stroke="#1e1e1e" stroke-width="1.5"/>
<line x1="29.40" y1="502.30" x2="33.60" y2="502.30" stroke="#1e1e1e" stroke-width="1.5"/>
<text x="27.60" y="505.70" font-size="10.0" text-anchor="end" textLength="5.67" lengthAdjust="spacingAndGlyphs">0</text>
<line x1="29.40" y1="472.75" x2="33.60" y2="472.75" stroke="#1e1e1e" stroke-width="1.5"/>
<text x="27.60" y="476.15" font-size="10.0" text-anchor="end" textLength="11.35" lengthAdjust="spacingAndGlyphs">10</text>
<line x1="29.40" y1="443.20" x2="33.60" y2="443.20" stroke="#1e1e1e" stroke-width="1.5"/>
<text x="27.60" y="446.60" font-size="10.0" text-anchor="end" textLength="11.35" lengthAdjust="spacingAndGlyphs">20</text>
<line x1="29.40" y1="413.65" x2="33.60" y2="413.65" stroke="#1e1e1e" stroke-width="1.5"/>
<text x="27.60" y="417.05" font-size="10.0" text-anchor="end" textLength="11.35" lengthAdjust="spacingAndGlyphs">30</text>
<line x1="29.40" y1="384.10" x2="33.60" y2="384.10" stroke="#1e1e1e" stroke-width="1.5"/>
<text x="27.60" y="387.50" font-size="10.0" text-anchor="end" textLength="11.35" lengthAdjust="spacingAndGlyphs">40</text>
<line x1="76.00" y1="502.30" x2="76.00" y2="507.30" stroke="#1e1e1e" stroke-width="1.3"/>
<text x="76.30" y="517.90" font-size="9.9" text-anchor="middle" textLength="13.19" lengthAdjust="spacingAndGlyphs">7w</text>
<line x1="167.80" y1="502.30" x2="167.80" y2="507.30" stroke="#1e1e1e" stroke-width="1.3"/>
<text x="168.10" y="517.90" font-size="9.9" text-anchor="middle" textLength="13.19" lengthAdjust="spacingAndGlyphs">9w</text>
<text x="0" y="0" font-size="9.7" text-anchor="middle" textLength="80.4" lengthAdjust="spacingAndGlyphs" transform="translate(10.30,441.80) rotate(-90)">Glucagon (ng/ml)</text>
<text x="15.80" y="370.80" font-size="17.5" text-anchor="start" >c</text>
<path d="M40.80 502.30V476.59H52.20V502.30" fill="#fff" stroke="#0808f4" stroke-width="1.5"/>
<line x1="46.50" y1="468.02" x2="46.50" y2="485.16" stroke="#0808f4" stroke-width="1.0"/>
<line x1="43.70" y1="468.02" x2="49.30" y2="468.02" stroke="#0808f4" stroke-width="1.0"/>
<line x1="43.70" y1="485.16" x2="49.30" y2="485.16" stroke="#0808f4" stroke-width="1.0"/>
<circle cx="46.50" cy="456.79" r="2.30" fill="#0808f4"/>
<circle cx="46.50" cy="472.16" r="2.30" fill="#0808f4"/>
<circle cx="44.50" cy="474.23" r="2.30" fill="#0808f4"/>
<circle cx="48.50" cy="475.71" r="2.30" fill="#0808f4"/>
<circle cx="42.50" cy="478.66" r="2.30" fill="#0808f4"/>
<circle cx="46.50" cy="479.84" r="2.30" fill="#0808f4"/>
<circle cx="50.50" cy="478.96" r="2.30" fill="#0808f4"/>
<circle cx="44.50" cy="482.21" r="2.30" fill="#0808f4"/>
<circle cx="48.50" cy="483.09" r="2.30" fill="#0808f4"/>
<path d="M60.70 502.30V471.27H72.10V502.30" fill="#fff" stroke="#f40808" stroke-width="1.5"/>
<line x1="66.40" y1="457.09" x2="66.40" y2="485.46" stroke="#f40808" stroke-width="1.0"/>
<line x1="63.60" y1="457.09" x2="69.20" y2="457.09" stroke="#f40808" stroke-width="1.0"/>
<line x1="63.60" y1="485.46" x2="69.20" y2="485.46" stroke="#f40808" stroke-width="1.0"/>
<rect x="64.28" y="441.97" width="4.23" height="4.23" fill="#f40808"/>
<rect x="64.28" y="457.63" width="4.23" height="4.23" fill="#f40808"/>
<rect x="64.28" y="464.72" width="4.23" height="4.23" fill="#f40808"/>
<rect x="60.28" y="469.16" width="4.23" height="4.23" fill="#f40808"/>
<rect x="68.28" y="469.75" width="4.23" height="4.23" fill="#f40808"/>
<rect x="64.28" y="478.02" width="4.23" height="4.23" fill="#f40808"/>
<rect x="64.28" y="487.48" width="4.23" height="4.23" fill="#f40808"/>
<path d="M80.60 502.30V469.20H92.00V502.30" fill="#fff" stroke="#14b014" stroke-width="1.5"/>
<line x1="86.30" y1="455.61" x2="86.30" y2="482.80" stroke="#14b014" stroke-width="1.0"/>
<line x1="83.50" y1="455.61" x2="89.10" y2="455.61" stroke="#14b014" stroke-width="1.0"/>
<line x1="83.50" y1="482.80" x2="89.10" y2="482.80" stroke="#14b014" stroke-width="1.0"/>
<path d="M83.80 447.03L86.47 451.84L81.13 451.84Z" fill="#14b014"/>
<path d="M88.80 446.44L91.47 451.24L86.13 451.24Z" fill="#14b014"/>
<path d="M82.30 466.54L84.97 471.34L79.63 471.34Z" fill="#14b014"/>
<path d="M90.30 466.54L92.97 471.34L87.63 471.34Z" fill="#14b014"/>
<path d="M86.30 474.81L88.97 479.61L83.63 479.61Z" fill="#14b014"/>
<path d="M88.30 478.36L90.97 483.16L85.63 483.16Z" fill="#14b014"/>
<path d="M84.80 481.90L87.47 486.70L82.13 486.70Z" fill="#14b014"/>
<path d="M100.20 502.30V473.05H111.60V502.30" fill="#fff" stroke="#9a12ea" stroke-width="1.5"/>
<line x1="105.90" y1="464.48" x2="105.90" y2="481.62" stroke="#9a12ea" stroke-width="1.0"/>
<line x1="103.10" y1="464.48" x2="108.70" y2="464.48" stroke="#9a12ea" stroke-width="1.0"/>
<line x1="103.10" y1="481.62" x2="108.70" y2="481.62" stroke="#9a12ea" stroke-width="1.0"/>
<path d="M105.90 459.46L108.57 454.66L103.23 454.66Z" fill="#9a12ea"/>
<path d="M104.40 462.12L107.07 457.32L101.73 457.32Z" fill="#9a12ea"/>
<path d="M105.90 476.01L108.57 471.21L103.23 471.21Z" fill="#9a12ea"/>
<path d="M102.90 476.90L105.57 472.09L100.23 472.09Z" fill="#9a12ea"/>
<path d="M108.90 478.37L111.57 473.57L106.23 473.57Z" fill="#9a12ea"/>
<path d="M105.90 481.33L108.57 476.53L103.23 476.53Z" fill="#9a12ea"/>
<path d="M107.90 482.81L110.57 478.00L105.23 478.00Z" fill="#9a12ea"/>
<path d="M132.90 502.30V463.29H144.30V502.30" fill="#fff" stroke="#0808f4" stroke-width="1.5"/>
<line x1="138.60" y1="451.47" x2="138.60" y2="475.11" stroke="#0808f4" stroke-width="1.0"/>
<line x1="135.80" y1="451.47" x2="141.40" y2="451.47" stroke="#0808f4" stroke-width="1.0"/>
<line x1="135.80" y1="475.11" x2="141.40" y2="475.11" stroke="#0808f4" stroke-width="1.0"/>
<circle cx="138.60" cy="445.27" r="2.30" fill="#0808f4"/>
<circle cx="138.60" cy="454.43" r="2.30" fill="#0808f4"/>
<circle cx="134.60" cy="462.41" r="2.30" fill="#0808f4"/>
<circle cx="142.60" cy="460.93" r="2.30" fill="#0808f4"/>
<circle cx="138.60" cy="462.11" r="2.30" fill="#0808f4"/>
<circle cx="138.60" cy="469.50" r="2.30" fill="#0808f4"/>
<circle cx="138.60" cy="486.05" r="2.30" fill="#0808f4"/>
<path d="M152.70 502.30V453.54H164.10V502.30" fill="#fff" stroke="#f40808" stroke-width="1.5"/>
<line x1="158.40" y1="437.29" x2="158.40" y2="469.80" stroke="#f40808" stroke-width="1.0"/>
<line x1="155.60" y1="437.29" x2="161.20" y2="437.29" stroke="#f40808" stroke-width="1.0"/>
<line x1="155.60" y1="469.80" x2="161.20" y2="469.80" stroke="#f40808" stroke-width="1.0"/>
<rect x="151.28" y="433.70" width="4.23" height="4.23" fill="#f40808"/>
<rect x="161.28" y="430.15" width="4.23" height="4.23" fill="#f40808"/>
<rect x="156.28" y="439.61" width="4.23" height="4.23" fill="#f40808"/>
<rect x="152.28" y="446.40" width="4.23" height="4.23" fill="#f40808"/>
<rect x="161.28" y="448.18" width="4.23" height="4.23" fill="#f40808"/>
<rect x="152.28" y="465.61" width="4.23" height="4.23" fill="#f40808"/>
<rect x="160.28" y="467.38" width="4.23" height="4.23" fill="#f40808"/>
<rect x="156.28" y="475.66" width="4.23" height="4.23" fill="#f40808"/>
<path d="M172.40 502.30V458.57H183.80V502.30" fill="#fff" stroke="#14b014" stroke-width="1.5"/>
<line x1="178.10" y1="444.38" x2="178.10" y2="472.75" stroke="#14b014" stroke-width="1.0"/>
<line x1="175.30" y1="444.38" x2="180.90" y2="444.38" stroke="#14b014" stroke-width="1.0"/>
<line x1="175.30" y1="472.75" x2="180.90" y2="472.75" stroke="#14b014" stroke-width="1.0"/>
<path d="M178.10 436.10L180.77 440.90L175.43 440.90Z" fill="#14b014"/>
<path d="M178.10 442.01L180.77 446.81L175.43 446.81Z" fill="#14b014"/>
<path d="M178.10 449.40L180.77 454.20L175.43 454.20Z" fill="#14b014"/>
<path d="M174.10 456.49L176.77 461.29L171.43 461.29Z" fill="#14b014"/>
<path d="M183.10 457.38L185.77 462.18L180.43 462.18Z" fill="#14b014"/>
<path d="M178.10 464.76L180.77 469.57L175.43 469.57Z" fill="#14b014"/>
<path d="M178.10 477.47L180.77 482.27L175.43 482.27Z" fill="#14b014"/>
<path d="M192.10 502.30V445.56H203.50V502.30" fill="#fff" stroke="#9a12ea" stroke-width="1.5"/>
<line x1="197.80" y1="420.74" x2="197.80" y2="470.39" stroke="#9a12ea" stroke-width="1.0"/>
<line x1="195.00" y1="420.74" x2="200.60" y2="420.74" stroke="#9a12ea" stroke-width="1.0"/>
<line x1="195.00" y1="470.39" x2="200.60" y2="470.39" stroke="#9a12ea" stroke-width="1.0"/>
<path d="M197.80 417.50L200.47 412.70L195.13 412.70Z" fill="#9a12ea"/>
<path d="M197.80 423.71L200.47 418.90L195.13 418.90Z" fill="#9a12ea"/>
<path d="M192.80 442.91L195.47 438.11L190.13 438.11Z" fill="#9a12ea"/>
<path d="M202.80 442.03L205.47 437.22L200.13 437.22Z" fill="#9a12ea"/>
<path d="M197.80 445.87L200.47 441.07L195.13 441.07Z" fill="#9a12ea"/>
<path d="M197.80 465.96L200.47 461.16L195.13 461.16Z" fill="#9a12ea"/>
<path d="M197.80 468.03L200.47 463.23L195.13 463.23Z" fill="#9a12ea"/>
<path d="M197.80 481.92L200.47 477.12L195.13 477.12Z" fill="#9a12ea"/>
<line x1="32.85" y1="502.30" x2="211.00" y2="502.30" stroke="#1e1e1e" stroke-width="1.5"/>
<line x1="288.60" y1="381.50" x2="288.60" y2="502.75" stroke="#1e1e1e" stroke-width="1.5"/>
<line x1="287.85" y1="502.00" x2="470.80" y2="502.00" stroke="#1e1e1e" stroke-width="1.5"/>
<line x1="284.40" y1="502.00" x2="288.60" y2="502.00" stroke="#1e1e1e" stroke-width="1.5"/>
<text x="282.40" y="505.40" font-size="10.2" text-anchor="end" textLength="5.79" lengthAdjust="spacingAndGlyphs">0</text>
<line x1="284.40" y1="472.02" x2="288.60" y2="472.02" stroke="#1e1e1e" stroke-width="1.5"/>
<text x="282.40" y="475.42" font-size="10.2" text-anchor="end" textLength="11.57" lengthAdjust="spacingAndGlyphs">10</text>
<line x1="284.40" y1="442.05" x2="288.60" y2="442.05" stroke="#1e1e1e" stroke-width="1.5"/>
<text x="282.40" y="445.45" font-size="10.2" text-anchor="end" textLength="11.57" lengthAdjust="spacingAndGlyphs">20</text>
<line x1="284.40" y1="412.08" x2="288.60" y2="412.08" stroke="#1e1e1e" stroke-width="1.5"/>
<text x="282.40" y="415.48" font-size="10.2" text-anchor="end" textLength="11.57" lengthAdjust="spacingAndGlyphs">30</text>
<line x1="284.40" y1="382.10" x2="288.60" y2="382.10" stroke="#1e1e1e" stroke-width="1.5"/>
<text x="282.40" y="385.50" font-size="10.2" text-anchor="end" textLength="11.57" lengthAdjust="spacingAndGlyphs">40</text>
<line x1="331.90" y1="502.00" x2="331.90" y2="507.00" stroke="#1e1e1e" stroke-width="1.3"/>
<text x="332.20" y="517.50" font-size="9.9" text-anchor="middle" textLength="18.69" lengthAdjust="spacingAndGlyphs">16w</text>
<line x1="425.20" y1="502.00" x2="425.20" y2="507.00" stroke="#1e1e1e" stroke-width="1.3"/>
<text x="425.50" y="517.50" font-size="9.9" text-anchor="middle" textLength="18.69" lengthAdjust="spacingAndGlyphs">18w</text>
<text x="0" y="0" font-size="9.8" text-anchor="middle" textLength="80.3" lengthAdjust="spacingAndGlyphs" transform="translate(263.70,440.40) rotate(-90)">Glucagon (ng/ml)</text>
<text x="273.50" y="366.80" font-size="17.5" text-anchor="start" >g</text>
<path d="M296.00 502.00V478.02H307.60V502.00" fill="#fff" stroke="#0808f4" stroke-width="1.5"/>
<line x1="301.80" y1="472.02" x2="301.80" y2="484.01" stroke="#0808f4" stroke-width="1.0"/>
<line x1="299.00" y1="472.02" x2="304.60" y2="472.02" stroke="#0808f4" stroke-width="1.0"/>
<line x1="299.00" y1="484.01" x2="304.60" y2="484.01" stroke="#0808f4" stroke-width="1.0"/>
<circle cx="301.80" cy="468.43" r="2.30" fill="#0808f4"/>
<circle cx="298.30" cy="473.52" r="2.30" fill="#0808f4"/>
<circle cx="300.80" cy="472.62" r="2.30" fill="#0808f4"/>
<circle cx="305.30" cy="475.92" r="2.30" fill="#0808f4"/>
<circle cx="301.80" cy="479.82" r="2.30" fill="#0808f4"/>
<circle cx="305.30" cy="481.02" r="2.30" fill="#0808f4"/>
<circle cx="301.80" cy="484.01" r="2.30" fill="#0808f4"/>
<circle cx="304.80" cy="483.42" r="2.30" fill="#0808f4"/>
<circle cx="301.80" cy="491.21" r="2.30" fill="#0808f4"/>
<path d="M316.20 502.00V473.22H327.80V502.00" fill="#fff" stroke="#f40808" stroke-width="1.5"/>
<line x1="322.00" y1="467.83" x2="322.00" y2="478.62" stroke="#f40808" stroke-width="1.0"/>
<line x1="319.20" y1="467.83" x2="324.80" y2="467.83" stroke="#f40808" stroke-width="1.0"/>
<line x1="319.20" y1="478.62" x2="324.80" y2="478.62" stroke="#f40808" stroke-width="1.0"/>
<rect x="319.88" y="465.71" width="4.23" height="4.23" fill="#f40808"/>
<rect x="315.88" y="469.61" width="4.23" height="4.23" fill="#f40808"/>
<rect x="321.88" y="469.61" width="4.23" height="4.23" fill="#f40808"/>
<rect x="324.88" y="470.51" width="4.23" height="4.23" fill="#f40808"/>
<rect x="316.88" y="479.20" width="4.23" height="4.23" fill="#f40808"/>
<rect x="321.88" y="479.20" width="4.23" height="4.23" fill="#f40808"/>
<rect x="317.88" y="483.10" width="4.23" height="4.23" fill="#f40808"/>
<path d="M336.50 502.00V474.42H348.10V502.00" fill="#fff" stroke="#14b014" stroke-width="1.5"/>
<line x1="342.30" y1="469.63" x2="342.30" y2="479.22" stroke="#14b014" stroke-width="1.0"/>
<line x1="339.50" y1="469.63" x2="345.10" y2="469.63" stroke="#14b014" stroke-width="1.0"/>
<line x1="339.50" y1="479.22" x2="345.10" y2="479.22" stroke="#14b014" stroke-width="1.0"/>
<path d="M343.80 466.66L346.47 471.46L341.13 471.46Z" fill="#14b014"/>
<path d="M340.30 468.76L342.97 473.56L337.63 473.56Z" fill="#14b014"/>
<path d="M346.30 468.76L348.97 473.56L343.63 473.56Z" fill="#14b014"/>
<path d="M342.30 470.86L344.97 475.66L339.63 475.66Z" fill="#14b014"/>
<path d="M342.30 477.75L344.97 482.55L339.63 482.55Z" fill="#14b014"/>
<path d="M345.30 476.55L347.97 481.35L342.63 481.35Z" fill="#14b014"/>
<path d="M342.30 480.75L344.97 485.55L339.63 485.55Z" fill="#14b014"/>
<path d="M356.70 502.00V477.42H368.30V502.00" fill="#fff" stroke="#9a12ea" stroke-width="1.5"/>
<line x1="362.50" y1="468.43" x2="362.50" y2="486.41" stroke="#9a12ea" stroke-width="1.0"/>
<line x1="359.70" y1="468.43" x2="365.30" y2="468.43" stroke="#9a12ea" stroke-width="1.0"/>
<line x1="359.70" y1="486.41" x2="365.30" y2="486.41" stroke="#9a12ea" stroke-width="1.0"/>
<path d="M358.50 469.30L361.17 464.50L355.83 464.50Z" fill="#9a12ea"/>
<path d="M366.50 465.40L369.17 460.60L363.83 460.60Z" fill="#9a12ea"/>
<path d="M363.50 472.89L366.17 468.09L360.83 468.09Z" fill="#9a12ea"/>
<path d="M363.50 483.09L366.17 478.28L360.83 478.28Z" fill="#9a12ea"/>
<path d="M359.50 487.28L362.17 482.48L356.83 482.48Z" fill="#9a12ea"/>
<path d="M366.50 486.98L369.17 482.18L363.83 482.18Z" fill="#9a12ea"/>
<path d="M390.00 502.00V479.52H401.60V502.00" fill="#fff" stroke="#0808f4" stroke-width="1.5"/>
<line x1="395.80" y1="472.32" x2="395.80" y2="486.71" stroke="#0808f4" stroke-width="1.0"/>
<line x1="393.00" y1="472.32" x2="398.60" y2="472.32" stroke="#0808f4" stroke-width="1.0"/>
<line x1="393.00" y1="486.71" x2="398.60" y2="486.71" stroke="#0808f4" stroke-width="1.0"/>
<circle cx="395.80" cy="464.23" r="2.30" fill="#0808f4"/>
<circle cx="392.80" cy="473.22" r="2.30" fill="#0808f4"/>
<circle cx="398.80" cy="473.22" r="2.30" fill="#0808f4"/>
<circle cx="395.80" cy="476.52" r="2.30" fill="#0808f4"/>
<circle cx="397.80" cy="481.62" r="2.30" fill="#0808f4"/>
<circle cx="395.80" cy="484.61" r="2.30" fill="#0808f4"/>
<circle cx="393.80" cy="492.71" r="2.30" fill="#0808f4"/>
<path d="M410.00 502.00V473.22H421.60V502.00" fill="#fff" stroke="#f40808" stroke-width="1.5"/>
<line x1="415.80" y1="467.23" x2="415.80" y2="479.22" stroke="#f40808" stroke-width="1.0"/>
<line x1="413.00" y1="467.23" x2="418.60" y2="467.23" stroke="#f40808" stroke-width="1.0"/>
<line x1="413.00" y1="479.22" x2="418.60" y2="479.22" stroke="#f40808" stroke-width="1.0"/>
<rect x="410.68" y="460.92" width="4.23" height="4.23" fill="#f40808"/>
<rect x="413.68" y="463.31" width="4.23" height="4.23" fill="#f40808"/>
<rect x="416.68" y="465.41" width="4.23" height="4.23" fill="#f40808"/>
<rect x="411.68" y="468.71" width="4.23" height="4.23" fill="#f40808"/>
<rect x="416.68" y="470.51" width="4.23" height="4.23" fill="#f40808"/>
<rect x="411.68" y="474.11" width="4.23" height="4.23" fill="#f40808"/>
<rect x="415.68" y="475.90" width="4.23" height="4.23" fill="#f40808"/>
<rect x="413.68" y="478.90" width="4.23" height="4.23" fill="#f40808"/>
<path d="M430.30 502.00V477.72H441.90V502.00" fill="#fff" stroke="#14b014" stroke-width="1.5"/>
<line x1="436.10" y1="464.23" x2="436.10" y2="491.21" stroke="#14b014" stroke-width="1.0"/>
<line x1="433.30" y1="464.23" x2="438.90" y2="464.23" stroke="#14b014" stroke-width="1.0"/>
<line x1="433.30" y1="491.21" x2="438.90" y2="491.21" stroke="#14b014" stroke-width="1.0"/>
<path d="M436.10 445.08L438.77 449.88L433.43 449.88Z" fill="#14b014"/>
<path d="M437.10 466.06L439.77 470.86L434.43 470.86Z" fill="#14b014"/>
<path d="M433.10 474.15L435.77 478.96L430.43 478.96Z" fill="#14b014"/>
<path d="M438.10 475.65L440.77 480.45L435.43 480.45Z" fill="#14b014"/>
<path d="M436.10 479.25L438.77 484.05L433.43 484.05Z" fill="#14b014"/>
<path d="M450.90 502.00V472.02H462.50V502.00" fill="#fff" stroke="#9a12ea" stroke-width="1.5"/>
<line x1="456.70" y1="458.84" x2="456.70" y2="485.21" stroke="#9a12ea" stroke-width="1.0"/>
<line x1="453.90" y1="458.84" x2="459.50" y2="458.84" stroke="#9a12ea" stroke-width="1.0"/>
<line x1="453.90" y1="485.21" x2="459.50" y2="485.21" stroke="#9a12ea" stroke-width="1.0"/>
<path d="M456.70 450.71L459.37 445.91L454.03 445.91Z" fill="#9a12ea"/>
<path d="M459.70 461.20L462.37 456.40L457.03 456.40Z" fill="#9a12ea"/>
<path d="M453.70 474.09L456.37 469.29L451.03 469.29Z" fill="#9a12ea"/>
<path d="M459.70 475.29L462.37 470.49L457.03 470.49Z" fill="#9a12ea"/>
<path d="M456.70 480.69L459.37 475.89L454.03 475.89Z" fill="#9a12ea"/>
<path d="M453.70 486.68L456.37 481.88L451.03 481.88Z" fill="#9a12ea"/>
<path d="M458.70 486.08L461.37 481.28L456.03 481.28Z" fill="#9a12ea"/>
<line x1="287.85" y1="502.00" x2="470.80" y2="502.00" stroke="#1e1e1e" stroke-width="1.5"/>
<line x1="33.60" y1="549.50" x2="33.60" y2="668.05" stroke="#1e1e1e" stroke-width="1.5"/>
<line x1="32.85" y1="667.30" x2="211.00" y2="667.30" stroke="#1e1e1e" stroke-width="1.5"/>
<line x1="29.40" y1="667.30" x2="33.60" y2="667.30" stroke="#1e1e1e" stroke-width="1.5"/>
<text x="27.60" y="670.70" font-size="10.0" text-anchor="end" textLength="5.34" lengthAdjust="spacingAndGlyphs">0</text>
<line x1="29.40" y1="628.23" x2="33.60" y2="628.23" stroke="#1e1e1e" stroke-width="1.5"/>
<text x="27.60" y="631.63" font-size="10.0" text-anchor="end" textLength="5.34" lengthAdjust="spacingAndGlyphs">5</text>
<line x1="29.40" y1="589.17" x2="33.60" y2="589.17" stroke="#1e1e1e" stroke-width="1.5"/>
<text x="27.60" y="592.57" font-size="10.0" text-anchor="end" textLength="10.68" lengthAdjust="spacingAndGlyphs">10</text>
<line x1="29.40" y1="550.10" x2="33.60" y2="550.10" stroke="#1e1e1e" stroke-width="1.5"/>
<text x="27.60" y="553.50" font-size="10.0" text-anchor="end" textLength="10.68" lengthAdjust="spacingAndGlyphs">15</text>
<line x1="76.40" y1="667.30" x2="76.40" y2="672.30" stroke="#1e1e1e" stroke-width="1.3"/>
<text x="76.70" y="682.60" font-size="9.9" text-anchor="middle" textLength="13.19" lengthAdjust="spacingAndGlyphs">7w</text>
<line x1="167.80" y1="667.30" x2="167.80" y2="672.30" stroke="#1e1e1e" stroke-width="1.3"/>
<text x="168.10" y="682.60" font-size="9.9" text-anchor="middle" textLength="13.19" lengthAdjust="spacingAndGlyphs">9w</text>
<path d="M139.40 570.50V556.10H198.60V566.20" fill="none" stroke="#3a3a3a" stroke-width="1.1"/>
<path d="M164.85 547.65L164.85 552.55M162.73 548.88L166.97 551.33M166.97 548.88L162.73 551.33" stroke="#1a1a1a" stroke-width="1.15" fill="none"/>
<path d="M172.15 547.65L172.15 552.55M170.03 548.88L174.27 551.33M174.27 548.88L170.03 551.33" stroke="#1a1a1a" stroke-width="1.15" fill="none"/>
<path d="M139.40 619.20V574.90H159.80V585.50" fill="none" stroke="#3a3a3a" stroke-width="1.1"/>
<path d="M147.25 564.45L147.25 569.35M145.13 565.67L149.37 568.12M149.37 565.67L145.13 568.12" stroke="#1a1a1a" stroke-width="1.15" fill="none"/>
<path d="M154.55 564.45L154.55 569.35M152.43 565.67L156.67 568.12M156.67 565.67L152.43 568.12" stroke="#1a1a1a" stroke-width="1.15" fill="none"/>
<text x="0" y="0" font-size="9.9" text-anchor="middle" textLength="94.8" lengthAdjust="spacingAndGlyphs" transform="translate(11.10,608.00) rotate(-90)">active GLP-1 (pg/ml)</text>
<text x="16.20" y="536.30" font-size="17.5" text-anchor="start" >d</text>
<path d="M41.40 667.30V645.81H52.80V667.30" fill="#fff" stroke="#0808f4" stroke-width="1.5"/>
<line x1="47.10" y1="639.17" x2="47.10" y2="652.45" stroke="#0808f4" stroke-width="1.0"/>
<line x1="44.30" y1="639.17" x2="49.90" y2="639.17" stroke="#0808f4" stroke-width="1.0"/>
<line x1="44.30" y1="652.45" x2="49.90" y2="652.45" stroke="#0808f4" stroke-width="1.0"/>
<circle cx="47.10" cy="630.58" r="2.30" fill="#0808f4"/>
<circle cx="43.10" cy="643.86" r="2.30" fill="#0808f4"/>
<circle cx="47.10" cy="646.20" r="2.30" fill="#0808f4"/>
<circle cx="51.10" cy="647.77" r="2.30" fill="#0808f4"/>
<circle cx="45.10" cy="650.11" r="2.30" fill="#0808f4"/>
<circle cx="49.10" cy="651.67" r="2.30" fill="#0808f4"/>
<circle cx="46.10" cy="654.80" r="2.30" fill="#0808f4"/>
<path d="M61.40 667.30V648.55H72.80V667.30" fill="#fff" stroke="#f40808" stroke-width="1.5"/>
<line x1="67.10" y1="644.64" x2="67.10" y2="652.45" stroke="#f40808" stroke-width="1.0"/>
<line x1="64.30" y1="644.64" x2="69.90" y2="644.64" stroke="#f40808" stroke-width="1.0"/>
<line x1="64.30" y1="652.45" x2="69.90" y2="652.45" stroke="#f40808" stroke-width="1.0"/>
<rect x="64.98" y="636.27" width="4.23" height="4.23" fill="#f40808"/>
<rect x="64.98" y="640.18" width="4.23" height="4.23" fill="#f40808"/>
<rect x="60.98" y="644.87" width="4.23" height="4.23" fill="#f40808"/>
<rect x="64.98" y="646.43" width="4.23" height="4.23" fill="#f40808"/>
<rect x="68.98" y="646.43" width="4.23" height="4.23" fill="#f40808"/>
<rect x="62.98" y="648.78" width="4.23" height="4.23" fill="#f40808"/>
<rect x="66.98" y="649.56" width="4.23" height="4.23" fill="#f40808"/>
<path d="M80.90 667.30V644.25H92.30V667.30" fill="#fff" stroke="#14b014" stroke-width="1.5"/>
<line x1="86.60" y1="636.44" x2="86.60" y2="652.06" stroke="#14b014" stroke-width="1.0"/>
<line x1="83.80" y1="636.44" x2="89.40" y2="636.44" stroke="#14b014" stroke-width="1.0"/>
<line x1="83.80" y1="652.06" x2="89.40" y2="652.06" stroke="#14b014" stroke-width="1.0"/>
<path d="M84.10 631.03L86.77 635.84L81.43 635.84Z" fill="#14b014"/>
<path d="M89.10 631.03L91.77 635.84L86.43 635.84Z" fill="#14b014"/>
<path d="M82.60 638.07L85.27 642.87L79.93 642.87Z" fill="#14b014"/>
<path d="M90.60 638.85L93.27 643.65L87.93 643.65Z" fill="#14b014"/>
<path d="M86.60 641.97L89.27 646.78L83.93 646.78Z" fill="#14b014"/>
<path d="M83.60 646.66L86.27 651.46L80.93 651.46Z" fill="#14b014"/>
<path d="M89.60 646.66L92.27 651.46L86.93 651.46Z" fill="#14b014"/>
<path d="M86.60 649.79L89.27 654.59L83.93 654.59Z" fill="#14b014"/>
<path d="M100.70 667.30V646.99H112.10V667.30" fill="#fff" stroke="#9a12ea" stroke-width="1.5"/>
<line x1="106.40" y1="641.52" x2="106.40" y2="652.45" stroke="#9a12ea" stroke-width="1.0"/>
<line x1="103.60" y1="641.52" x2="109.20" y2="641.52" stroke="#9a12ea" stroke-width="1.0"/>
<line x1="103.60" y1="652.45" x2="109.20" y2="652.45" stroke="#9a12ea" stroke-width="1.0"/>
<path d="M106.40 641.84L109.07 637.04L103.73 637.04Z" fill="#9a12ea"/>
<path d="M106.40 644.97L109.07 640.16L103.73 640.16Z" fill="#9a12ea"/>
<path d="M102.40 648.87L105.07 644.07L99.73 644.07Z" fill="#9a12ea"/>
<path d="M108.40 648.87L111.07 644.07L105.73 644.07Z" fill="#9a12ea"/>
<path d="M110.40 650.43L113.07 645.63L107.73 645.63Z" fill="#9a12ea"/>
<path d="M133.50 667.30V639.95H144.90V667.30" fill="#fff" stroke="#0808f4" stroke-width="1.5"/>
<line x1="139.20" y1="635.27" x2="139.20" y2="644.64" stroke="#0808f4" stroke-width="1.0"/>
<line x1="136.40" y1="635.27" x2="142.00" y2="635.27" stroke="#0808f4" stroke-width="1.0"/>
<line x1="136.40" y1="644.64" x2="142.00" y2="644.64" stroke="#0808f4" stroke-width="1.0"/>
<circle cx="138.20" cy="632.14" r="2.30" fill="#0808f4"/>
<circle cx="141.20" cy="629.01" r="2.30" fill="#0808f4"/>
<circle cx="136.20" cy="639.17" r="2.30" fill="#0808f4"/>
<circle cx="142.20" cy="639.17" r="2.30" fill="#0808f4"/>
<circle cx="139.20" cy="642.30" r="2.30" fill="#0808f4"/>
<circle cx="137.20" cy="646.20" r="2.30" fill="#0808f4"/>
<circle cx="141.20" cy="646.99" r="2.30" fill="#0808f4"/>
<path d="M153.30 667.30V612.61H164.70V667.30" fill="#fff" stroke="#f40808" stroke-width="1.5"/>
<line x1="159.00" y1="598.93" x2="159.00" y2="626.28" stroke="#f40808" stroke-width="1.0"/>
<line x1="156.20" y1="598.93" x2="161.80" y2="598.93" stroke="#f40808" stroke-width="1.0"/>
<line x1="156.20" y1="626.28" x2="161.80" y2="626.28" stroke="#f40808" stroke-width="1.0"/>
<rect x="152.58" y="597.21" width="4.23" height="4.23" fill="#f40808"/>
<rect x="160.58" y="593.30" width="4.23" height="4.23" fill="#f40808"/>
<rect x="160.58" y="599.32" width="4.23" height="4.23" fill="#f40808"/>
<rect x="154.38" y="615.49" width="4.23" height="4.23" fill="#f40808"/>
<rect x="159.38" y="615.49" width="4.23" height="4.23" fill="#f40808"/>
<rect x="154.38" y="619.87" width="4.23" height="4.23" fill="#f40808"/>
<rect x="159.38" y="619.87" width="4.23" height="4.23" fill="#f40808"/>
<rect x="156.88" y="625.88" width="4.23" height="4.23" fill="#f40808"/>
<path d="M172.60 667.30V642.30H184.00V667.30" fill="#fff" stroke="#14b014" stroke-width="1.5"/>
<line x1="178.30" y1="638.39" x2="178.30" y2="646.20" stroke="#14b014" stroke-width="1.0"/>
<line x1="175.50" y1="638.39" x2="181.10" y2="638.39" stroke="#14b014" stroke-width="1.0"/>
<line x1="175.50" y1="646.20" x2="181.10" y2="646.20" stroke="#14b014" stroke-width="1.0"/>
<path d="M178.30 627.91L180.97 632.71L175.63 632.71Z" fill="#14b014"/>
<path d="M175.30 635.72L177.97 640.53L172.63 640.53Z" fill="#14b014"/>
<path d="M181.30 635.72L183.97 640.53L178.63 640.53Z" fill="#14b014"/>
<path d="M178.30 638.85L180.97 643.65L175.63 643.65Z" fill="#14b014"/>
<path d="M175.30 643.54L177.97 648.34L172.63 648.34Z" fill="#14b014"/>
<path d="M181.30 642.75L183.97 647.56L178.63 647.56Z" fill="#14b014"/>
<path d="M192.30 667.30V602.45H203.70V667.30" fill="#fff" stroke="#9a12ea" stroke-width="1.5"/>
<line x1="198.00" y1="582.92" x2="198.00" y2="621.98" stroke="#9a12ea" stroke-width="1.0"/>
<line x1="195.20" y1="582.92" x2="200.80" y2="582.92" stroke="#9a12ea" stroke-width="1.0"/>
<line x1="195.20" y1="621.98" x2="200.80" y2="621.98" stroke="#9a12ea" stroke-width="1.0"/>
<path d="M198.00 575.43L200.67 570.62L195.33 570.62Z" fill="#9a12ea"/>
<path d="M193.00 591.83L195.67 587.03L190.33 587.03Z" fill="#9a12ea"/>
<path d="M202.00 587.93L204.67 583.13L199.33 583.13Z" fill="#9a12ea"/>
<path d="M193.00 602.77L195.67 597.97L190.33 597.97Z" fill="#9a12ea"/>
<path d="M202.00 605.12L204.67 600.31L199.33 600.31Z" fill="#9a12ea"/>
<path d="M193.00 617.62L195.67 612.82L190.33 612.82Z" fill="#9a12ea"/>
<path d="M202.00 619.18L204.67 614.38L199.33 614.38Z" fill="#9a12ea"/>
<path d="M198.00 627.78L200.67 622.97L195.33 622.97Z" fill="#9a12ea"/>
<line x1="32.85" y1="667.30" x2="211.00" y2="667.30" stroke="#1e1e1e" stroke-width="1.5"/>
<line x1="288.60" y1="547.00" x2="288.60" y2="666.55" stroke="#1e1e1e" stroke-width="1.5"/>
<line x1="287.85" y1="665.80" x2="465.70" y2="665.80" stroke="#1e1e1e" stroke-width="1.5"/>
<line x1="284.40" y1="665.80" x2="288.60" y2="665.80" stroke="#1e1e1e" stroke-width="1.5"/>
<text x="282.60" y="669.20" font-size="10.0" text-anchor="end" textLength="5.34" lengthAdjust="spacingAndGlyphs">0</text>
<line x1="284.40" y1="626.40" x2="288.60" y2="626.40" stroke="#1e1e1e" stroke-width="1.5"/>
<text x="282.60" y="629.80" font-size="10.0" text-anchor="end" textLength="5.34" lengthAdjust="spacingAndGlyphs">5</text>
<line x1="284.40" y1="587.00" x2="288.60" y2="587.00" stroke="#1e1e1e" stroke-width="1.5"/>
<text x="282.60" y="590.40" font-size="10.0" text-anchor="end" textLength="10.68" lengthAdjust="spacingAndGlyphs">10</text>
<line x1="284.40" y1="547.60" x2="288.60" y2="547.60" stroke="#1e1e1e" stroke-width="1.5"/>
<text x="282.60" y="551.00" font-size="10.0" text-anchor="end" textLength="10.68" lengthAdjust="spacingAndGlyphs">15</text>
<line x1="331.10" y1="665.80" x2="331.10" y2="670.80" stroke="#1e1e1e" stroke-width="1.3"/>
<text x="331.40" y="680.80" font-size="9.9" text-anchor="middle" textLength="18.69" lengthAdjust="spacingAndGlyphs">16w</text>
<line x1="422.10" y1="665.80" x2="422.10" y2="670.80" stroke="#1e1e1e" stroke-width="1.3"/>
<text x="422.40" y="680.80" font-size="9.9" text-anchor="middle" textLength="18.69" lengthAdjust="spacingAndGlyphs">18w</text>
<path d="M389.80 576.20V558.00H449.10V603.80" fill="none" stroke="#3a3a3a" stroke-width="1.1"/>
<path d="M415.95 546.55L415.95 551.45M413.83 547.77L418.07 550.23M418.07 547.77L413.83 550.23" stroke="#1a1a1a" stroke-width="1.15" fill="none"/>
<path d="M423.25 546.55L423.25 551.45M421.13 547.77L425.37 550.23M425.37 547.77L421.13 550.23" stroke="#1a1a1a" stroke-width="1.15" fill="none"/>
<path d="M389.80 632.50V579.90H410.30V595.40" fill="none" stroke="#3a3a3a" stroke-width="1.1"/>
<path d="M397.65 563.95L397.65 568.85M395.53 565.17L399.77 567.62M399.77 565.17L395.53 567.62" stroke="#1a1a1a" stroke-width="1.15" fill="none"/>
<path d="M404.95 563.95L404.95 568.85M402.83 565.17L407.07 567.62M407.07 565.17L402.83 567.62" stroke="#1a1a1a" stroke-width="1.15" fill="none"/>
<text x="0" y="0" font-size="9.8" text-anchor="middle" textLength="94.8" lengthAdjust="spacingAndGlyphs" transform="translate(265.00,605.40) rotate(-90)">active GLP-1 (pg/ml)</text>
<text x="269.80" y="537.50" font-size="17.5" text-anchor="start" >h</text>
<path d="M296.05 665.80V649.65H307.15V665.80" fill="#fff" stroke="#0808f4" stroke-width="1.5"/>
<line x1="301.60" y1="646.49" x2="301.60" y2="652.80" stroke="#0808f4" stroke-width="1.0"/>
<line x1="298.80" y1="646.49" x2="304.40" y2="646.49" stroke="#0808f4" stroke-width="1.0"/>
<line x1="298.80" y1="652.80" x2="304.40" y2="652.80" stroke="#0808f4" stroke-width="1.0"/>
<circle cx="298.60" cy="643.74" r="2.30" fill="#0808f4"/>
<circle cx="301.60" cy="644.52" r="2.30" fill="#0808f4"/>
<circle cx="304.60" cy="645.31" r="2.30" fill="#0808f4"/>
<circle cx="298.60" cy="647.68" r="2.30" fill="#0808f4"/>
<circle cx="301.60" cy="648.46" r="2.30" fill="#0808f4"/>
<circle cx="304.60" cy="647.68" r="2.30" fill="#0808f4"/>
<circle cx="301.60" cy="651.62" r="2.30" fill="#0808f4"/>
<circle cx="299.60" cy="652.40" r="2.30" fill="#0808f4"/>
<path d="M315.85 665.80V650.43H326.95V665.80" fill="#fff" stroke="#f40808" stroke-width="1.5"/>
<line x1="321.40" y1="647.68" x2="321.40" y2="653.19" stroke="#f40808" stroke-width="1.0"/>
<line x1="318.60" y1="647.68" x2="324.20" y2="647.68" stroke="#f40808" stroke-width="1.0"/>
<line x1="318.60" y1="653.19" x2="324.20" y2="653.19" stroke="#f40808" stroke-width="1.0"/>
<rect x="316.28" y="643.98" width="4.23" height="4.23" fill="#f40808"/>
<rect x="319.28" y="644.77" width="4.23" height="4.23" fill="#f40808"/>
<rect x="322.28" y="645.56" width="4.23" height="4.23" fill="#f40808"/>
<rect x="317.28" y="647.14" width="4.23" height="4.23" fill="#f40808"/>
<rect x="321.28" y="647.92" width="4.23" height="4.23" fill="#f40808"/>
<rect x="319.28" y="650.29" width="4.23" height="4.23" fill="#f40808"/>
<path d="M335.75 665.80V650.43H346.85V665.80" fill="#fff" stroke="#14b014" stroke-width="1.5"/>
<line x1="341.30" y1="646.49" x2="341.30" y2="654.37" stroke="#14b014" stroke-width="1.0"/>
<line x1="338.50" y1="646.49" x2="344.10" y2="646.49" stroke="#14b014" stroke-width="1.0"/>
<line x1="338.50" y1="654.37" x2="344.10" y2="654.37" stroke="#14b014" stroke-width="1.0"/>
<path d="M341.30 639.49L343.97 644.29L338.63 644.29Z" fill="#14b014"/>
<path d="M338.30 645.01L340.97 649.81L335.63 649.81Z" fill="#14b014"/>
<path d="M344.30 645.80L346.97 650.60L341.63 650.60Z" fill="#14b014"/>
<path d="M341.30 648.95L343.97 653.75L338.63 653.75Z" fill="#14b014"/>
<path d="M339.30 650.52L341.97 655.33L336.63 655.33Z" fill="#14b014"/>
<path d="M355.45 665.80V649.25H366.55V665.80" fill="#fff" stroke="#9a12ea" stroke-width="1.5"/>
<line x1="361.00" y1="645.71" x2="361.00" y2="652.80" stroke="#9a12ea" stroke-width="1.0"/>
<line x1="358.20" y1="645.71" x2="363.80" y2="645.71" stroke="#9a12ea" stroke-width="1.0"/>
<line x1="358.20" y1="652.80" x2="363.80" y2="652.80" stroke="#9a12ea" stroke-width="1.0"/>
<path d="M361.00 645.62L363.67 640.81L358.33 640.81Z" fill="#9a12ea"/>
<path d="M358.00 647.98L360.67 643.18L355.33 643.18Z" fill="#9a12ea"/>
<path d="M364.00 648.77L366.67 643.97L361.33 643.97Z" fill="#9a12ea"/>
<path d="M361.00 651.92L363.67 647.12L358.33 647.12Z" fill="#9a12ea"/>
<path d="M363.00 654.28L365.67 649.48L360.33 649.48Z" fill="#9a12ea"/>
<path d="M387.85 665.80V648.46H398.95V665.80" fill="#fff" stroke="#0808f4" stroke-width="1.5"/>
<line x1="393.40" y1="645.71" x2="393.40" y2="651.22" stroke="#0808f4" stroke-width="1.0"/>
<line x1="390.60" y1="645.71" x2="396.20" y2="645.71" stroke="#0808f4" stroke-width="1.0"/>
<line x1="390.60" y1="651.22" x2="396.20" y2="651.22" stroke="#0808f4" stroke-width="1.0"/>
<circle cx="390.40" cy="643.74" r="2.30" fill="#0808f4"/>
<circle cx="393.40" cy="642.95" r="2.30" fill="#0808f4"/>
<circle cx="396.40" cy="644.52" r="2.30" fill="#0808f4"/>
<circle cx="390.40" cy="647.68" r="2.30" fill="#0808f4"/>
<circle cx="396.40" cy="648.46" r="2.30" fill="#0808f4"/>
<circle cx="393.40" cy="650.04" r="2.30" fill="#0808f4"/>
<circle cx="391.40" cy="653.19" r="2.30" fill="#0808f4"/>
<circle cx="395.40" cy="652.40" r="2.30" fill="#0808f4"/>
<path d="M407.55 665.80V624.43H418.65V665.80" fill="#fff" stroke="#f40808" stroke-width="1.5"/>
<line x1="413.10" y1="613.40" x2="413.10" y2="635.46" stroke="#f40808" stroke-width="1.0"/>
<line x1="410.30" y1="613.40" x2="415.90" y2="613.40" stroke="#f40808" stroke-width="1.0"/>
<line x1="410.30" y1="635.46" x2="415.90" y2="635.46" stroke="#f40808" stroke-width="1.0"/>
<rect x="410.98" y="600.64" width="4.23" height="4.23" fill="#f40808"/>
<rect x="410.98" y="611.68" width="4.23" height="4.23" fill="#f40808"/>
<rect x="407.98" y="617.98" width="4.23" height="4.23" fill="#f40808"/>
<rect x="413.98" y="620.34" width="4.23" height="4.23" fill="#f40808"/>
<rect x="410.98" y="624.28" width="4.23" height="4.23" fill="#f40808"/>
<rect x="407.98" y="628.22" width="4.23" height="4.23" fill="#f40808"/>
<rect x="413.98" y="630.59" width="4.23" height="4.23" fill="#f40808"/>
<rect x="410.98" y="635.32" width="4.23" height="4.23" fill="#f40808"/>
<path d="M427.45 665.80V646.10H438.55V665.80" fill="#fff" stroke="#14b014" stroke-width="1.5"/>
<line x1="433.00" y1="641.37" x2="433.00" y2="650.83" stroke="#14b014" stroke-width="1.0"/>
<line x1="430.20" y1="641.37" x2="435.80" y2="641.37" stroke="#14b014" stroke-width="1.0"/>
<line x1="430.20" y1="650.83" x2="435.80" y2="650.83" stroke="#14b014" stroke-width="1.0"/>
<path d="M430.00 635.55L432.67 640.35L427.33 640.35Z" fill="#14b014"/>
<path d="M436.00 635.55L438.67 640.35L433.33 640.35Z" fill="#14b014"/>
<path d="M433.00 639.49L435.67 644.29L430.33 644.29Z" fill="#14b014"/>
<path d="M430.00 644.22L432.67 649.02L427.33 649.02Z" fill="#14b014"/>
<path d="M436.00 644.22L438.67 649.02L433.33 649.02Z" fill="#14b014"/>
<path d="M433.00 648.95L435.67 653.75L430.33 653.75Z" fill="#14b014"/>
<path d="M446.95 665.80V626.40H458.05V665.80" fill="#fff" stroke="#9a12ea" stroke-width="1.5"/>
<line x1="452.50" y1="620.10" x2="452.50" y2="632.70" stroke="#9a12ea" stroke-width="1.0"/>
<line x1="449.70" y1="620.10" x2="455.30" y2="620.10" stroke="#9a12ea" stroke-width="1.0"/>
<line x1="449.70" y1="632.70" x2="455.30" y2="632.70" stroke="#9a12ea" stroke-width="1.0"/>
<path d="M452.50 613.31L455.17 608.51L449.83 608.51Z" fill="#9a12ea"/>
<path d="M448.50 618.82L451.17 614.02L445.83 614.02Z" fill="#9a12ea"/>
<path d="M455.50 620.40L458.17 615.60L452.83 615.60Z" fill="#9a12ea"/>
<path d="M450.50 626.70L453.17 621.90L447.83 621.90Z" fill="#9a12ea"/>
<path d="M455.50 629.07L458.17 624.27L452.83 624.27Z" fill="#9a12ea"/>
<path d="M452.50 633.01L455.17 628.21L449.83 628.21Z" fill="#9a12ea"/>
<path d="M452.50 641.68L455.17 636.87L449.83 636.87Z" fill="#9a12ea"/>
<line x1="287.85" y1="665.80" x2="465.70" y2="665.80" stroke="#1e1e1e" stroke-width="1.5"/>
<rect x="28.5" y="0.8" width="158.9" height="28.1" fill="none" stroke="#000" stroke-width="1.9"/>
<text x="37.00" y="20.50" font-size="17" text-anchor="start" textLength="143.5" lengthAdjust="spacingAndGlyphs">Early phase group</text>
<rect x="268.9" y="0.8" width="195.8" height="28.1" fill="none" stroke="#000" stroke-width="1.9"/>
<text x="275.30" y="20.50" font-size="17" text-anchor="start" textLength="181.5" lengthAdjust="spacingAndGlyphs">Advanced phase group</text>
<svg x="195" y="30" width="54.4" height="75" overflow="hidden">
<circle cx="12.70" cy="9.50" r="1.80" fill="#0808f4"/>
<text x="25.30" y="13.50" font-size="12.2" text-anchor="start" textLength="45.91" lengthAdjust="spacingAndGlyphs">Control</text>
<rect x="11.04" y="25.74" width="3.31" height="3.31" fill="#f40808"/>
<text x="25.30" y="31.40" font-size="12.2" text-anchor="start" textLength="26.55" lengthAdjust="spacingAndGlyphs">Lina</text>
<path d="M12.70 43.61L14.79 47.37L10.61 47.37Z" fill="#14b014"/>
<text x="25.30" y="49.70" font-size="12.2" text-anchor="start" textLength="35.18" lengthAdjust="spacingAndGlyphs">Empa</text>
<path d="M12.70 65.69L14.79 61.93L10.61 61.93Z" fill="#9a12ea"/>
<text x="25.30" y="67.60" font-size="12.2" text-anchor="start" textLength="24.05" lengthAdjust="spacingAndGlyphs">L+E</text>
</svg>
</svg>
</body></html>
